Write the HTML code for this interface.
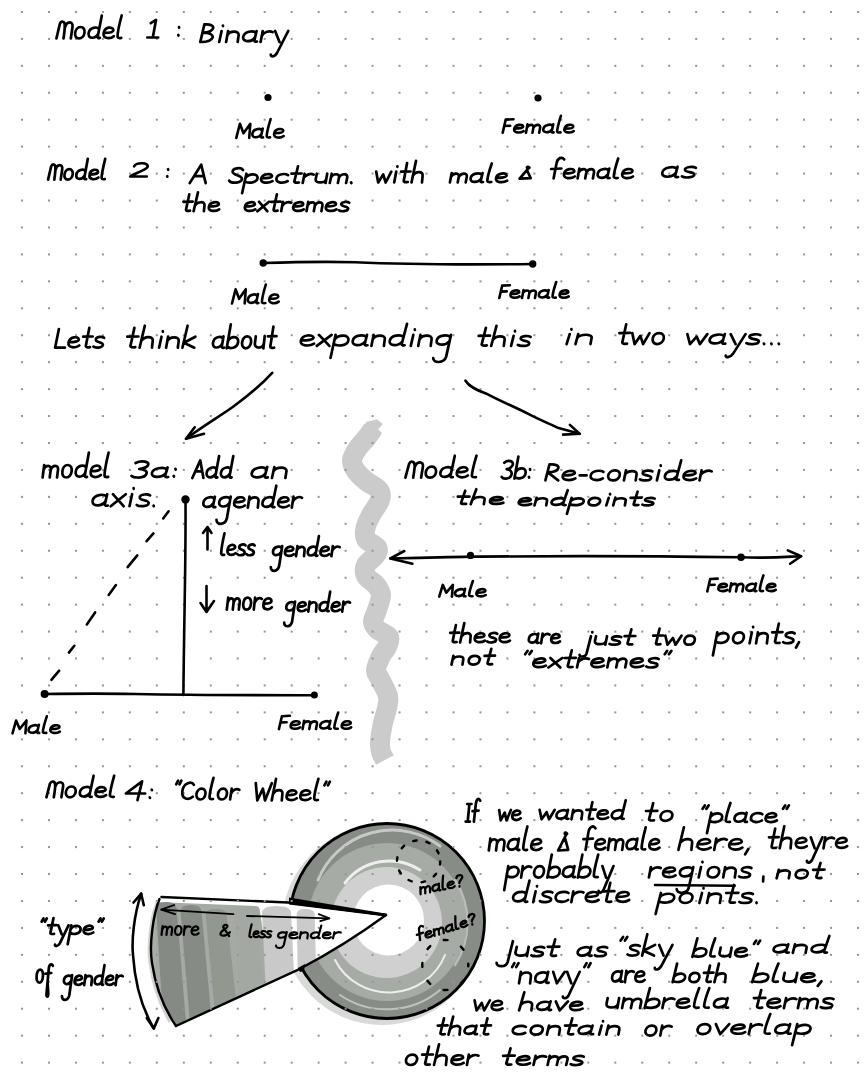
<!DOCTYPE html>
<html><head><meta charset="utf-8"><title>Models of gender</title>
<style>
html,body{margin:0;padding:0;background:#fff;width:865px;height:1080px;overflow:hidden;}
svg{display:block;font-family:"Liberation Sans", sans-serif;}
</style></head><body>
<svg width="865" height="1080" viewBox="0 0 865 1080">
<rect width="865" height="1080" fill="#fff"/>
<path d="M373.0,429.0 C372.2,430.2 370.5,432.8 368.0,436.0 C365.5,439.2 360.7,444.0 358.0,448.0 C355.3,452.0 352.3,456.2 352.0,460.0 C351.7,463.8 353.7,467.5 356.0,471.0 C358.3,474.5 362.2,477.8 366.0,481.0 C369.8,484.2 376.7,486.8 379.0,490.0 C381.3,493.2 381.3,495.8 380.0,500.0 C378.7,504.2 373.4,510.3 371.0,515.0 C368.6,519.7 366.3,524.0 365.5,528.0 C364.7,532.0 364.0,535.7 366.0,539.0 C368.0,542.3 376.0,545.2 377.5,548.0 C379.0,550.8 376.9,553.2 375.0,556.0 C373.1,558.8 367.5,561.7 366.0,565.0 C364.5,568.3 364.3,572.7 366.0,576.0 C367.7,579.3 373.5,581.8 376.0,585.0 C378.5,588.2 380.8,590.8 381.0,595.0 C381.2,599.2 378.3,605.5 377.0,610.0 C375.7,614.5 372.8,618.7 373.0,622.0 C373.2,625.3 375.3,627.5 378.0,630.0 C380.7,632.5 387.5,634.2 389.0,637.0 C390.5,639.8 388.3,643.8 387.0,647.0 C385.7,650.2 382.8,652.2 381.0,656.0 C379.2,659.8 376.2,666.2 376.0,670.0 C375.8,673.8 378.0,674.7 380.0,679.0 C382.0,683.3 386.8,691.2 388.0,696.0 C389.2,700.8 387.8,703.5 387.0,708.0 C386.2,712.5 384.2,717.3 383.0,723.0 C381.8,728.7 380.3,737.2 380.0,742.0 C379.7,746.8 380.2,749.0 381.0,752.0 C381.8,755.0 384.3,758.7 385.0,760.0" fill="none" stroke="#cbcbcb" stroke-width="20" stroke-linejoin="round" stroke-linecap="butt"/>
<polygon points="366,422 377,419.3 382.8,423.9 378.1,429.4 381.9,432.7 373.5,444 358,440 364.3,427.6" fill="#cbcbcb"/>
<!-- color wheel ring -->
<g id="wheel">
  <circle cx="382" cy="925" r="100" fill="#d9d9d9"/>
  <circle cx="387" cy="921" r="97.5" fill="#878c87"/>
  <circle cx="387" cy="922" r="79" fill="#a6aba6"/>
  <circle cx="386.5" cy="922.5" r="55.5" fill="#d0d0d0"/>
  <circle cx="388.5" cy="920" r="35.5" fill="#fff"/>
  <g fill="none" stroke-linecap="round">
    <path d="M318,880 A80,80 0 0 1 440,846" stroke="#c6c9c6" stroke-width="3"/>
    <path d="M455,880 A79,79 0 0 1 455,965" stroke="#b9bdb9" stroke-width="2.5"/>
    <path d="M345,883 A56,56 0 0 1 420,870" stroke="#eeeeee" stroke-width="3"/>
    <path d="M335,960 A60,58 0 0 0 445,955" stroke="#ffffff" stroke-width="2" opacity="0.8"/>
    <path d="M340,995 A80,76 0 0 0 440,990" stroke="#c0c4c0" stroke-width="2"/>
  </g>
  <circle cx="387" cy="921" r="97.5" fill="none" stroke="#000" stroke-width="2.8"/>
</g>
<defs>
  <clipPath id="wclip"><path d="M386,915 L288,902.5 L161.4,897 L159.5,898.5 C153,915 149,945 152,963 C156,990 165,1010 176,1026 L300,968.8 Q345,945 386,915 Z"/></clipPath>
</defs>
<g clip-path="url(#wclip)">
  <rect x="140" y="880" width="260" height="160" fill="#fff"/>
  <path d="M150,906 Q150,902 156,902 L256,906 Q260,906 260,912 L280,1040 L150,1040 Z" fill="#a5aaa5"/>
  <path d="M156,908 Q157,902 166,902 Q176,902 176.5,908 L187,1035 L164,1035 Z" fill="#858a85"/>
  <path d="M180.5,911 Q181,905 191,905 Q201,905 201.5,911 L213,1035 L191,1035 Z" fill="#868b86"/>
  <path d="M205.5,914 Q206,909 216,909 Q226,909 226.5,914 L240,1035 L217,1035 Z" fill="#92978f"/>
  <path d="M234,912 Q235,906 245,906 Q257,906 258,912 L266,1035 L242,1035 Z" fill="#a3a8a3"/>
  <path d="M262,912 Q263,906 276,906 Q290,906 291,912 L297,1035 L268,1035 Z" fill="#c9c9c9"/>
  <path d="M296.6,914 Q297,909 305,909 Q314,909 314.6,914 L318,1035 L299,1035 Z" fill="#cbcbcb"/>
  <path d="M150,1040 L176,1026 L300,968.8 L300,976 L178,1033 Z" fill="#c6c8c6"/>
  <path d="M190,1022 L300,971 L300,973 L195,1022 Z" fill="#ffffff" opacity="0.6"/>
  <path d="M153,905 L152,1000 L155.5,1000 L156.5,905 Z" fill="#a9ada9"/>
</g>
<path d="M157,902 C151,918 147.5,945 150,963 C153,985 160,1005 170,1022" fill="none" stroke="#d2d2d2" stroke-width="3"/>
<g fill="none" stroke="#000" stroke-width="2.4" stroke-linecap="round" stroke-linejoin="round">
  <path d="M161.4,897 L288,902.5 L386,915"/>
  <path d="M159.5,899 C153,915 149,945 152,963 C156,990 165,1010 176,1026"/>
  <path d="M176,1026 L300,968.8 Q345,945 386,915"/>
</g>
<polygon points="289,897.5 386.8,913.8 386,916.5 289,904.5" fill="#000"/>
<polygon points="298,968 305,964 304,971 300,972" fill="#000"/>

<g fill="#959595"><rect x="21.00" y="10.95" width="2" height="2"/><rect x="47.97" y="10.95" width="2" height="2"/><rect x="74.94" y="10.95" width="2" height="2"/><rect x="101.90" y="10.95" width="2" height="2"/><rect x="128.87" y="10.95" width="2" height="2"/><rect x="155.84" y="10.95" width="2" height="2"/><rect x="182.81" y="10.95" width="2" height="2"/><rect x="209.78" y="10.95" width="2" height="2"/><rect x="236.74" y="10.95" width="2" height="2"/><rect x="263.71" y="10.95" width="2" height="2"/><rect x="290.68" y="10.95" width="2" height="2"/><rect x="317.65" y="10.95" width="2" height="2"/><rect x="344.62" y="10.95" width="2" height="2"/><rect x="371.58" y="10.95" width="2" height="2"/><rect x="398.55" y="10.95" width="2" height="2"/><rect x="425.52" y="10.95" width="2" height="2"/><rect x="452.49" y="10.95" width="2" height="2"/><rect x="479.46" y="10.95" width="2" height="2"/><rect x="506.42" y="10.95" width="2" height="2"/><rect x="533.39" y="10.95" width="2" height="2"/><rect x="560.36" y="10.95" width="2" height="2"/><rect x="587.33" y="10.95" width="2" height="2"/><rect x="614.30" y="10.95" width="2" height="2"/><rect x="641.26" y="10.95" width="2" height="2"/><rect x="668.23" y="10.95" width="2" height="2"/><rect x="695.20" y="10.95" width="2" height="2"/><rect x="722.17" y="10.95" width="2" height="2"/><rect x="749.14" y="10.95" width="2" height="2"/><rect x="776.10" y="10.95" width="2" height="2"/><rect x="803.07" y="10.95" width="2" height="2"/><rect x="830.04" y="10.95" width="2" height="2"/><rect x="857.01" y="10.95" width="2" height="2"/><rect x="21.00" y="37.89" width="2" height="2"/><rect x="47.97" y="37.89" width="2" height="2"/><rect x="74.94" y="37.89" width="2" height="2"/><rect x="101.90" y="37.89" width="2" height="2"/><rect x="128.87" y="37.89" width="2" height="2"/><rect x="155.84" y="37.89" width="2" height="2"/><rect x="182.81" y="37.89" width="2" height="2"/><rect x="209.78" y="37.89" width="2" height="2"/><rect x="236.74" y="37.89" width="2" height="2"/><rect x="263.71" y="37.89" width="2" height="2"/><rect x="290.68" y="37.89" width="2" height="2"/><rect x="317.65" y="37.89" width="2" height="2"/><rect x="344.62" y="37.89" width="2" height="2"/><rect x="371.58" y="37.89" width="2" height="2"/><rect x="398.55" y="37.89" width="2" height="2"/><rect x="425.52" y="37.89" width="2" height="2"/><rect x="452.49" y="37.89" width="2" height="2"/><rect x="479.46" y="37.89" width="2" height="2"/><rect x="506.42" y="37.89" width="2" height="2"/><rect x="533.39" y="37.89" width="2" height="2"/><rect x="560.36" y="37.89" width="2" height="2"/><rect x="587.33" y="37.89" width="2" height="2"/><rect x="614.30" y="37.89" width="2" height="2"/><rect x="641.26" y="37.89" width="2" height="2"/><rect x="668.23" y="37.89" width="2" height="2"/><rect x="695.20" y="37.89" width="2" height="2"/><rect x="722.17" y="37.89" width="2" height="2"/><rect x="749.14" y="37.89" width="2" height="2"/><rect x="776.10" y="37.89" width="2" height="2"/><rect x="803.07" y="37.89" width="2" height="2"/><rect x="830.04" y="37.89" width="2" height="2"/><rect x="857.01" y="37.89" width="2" height="2"/><rect x="21.00" y="64.83" width="2" height="2"/><rect x="47.97" y="64.83" width="2" height="2"/><rect x="74.94" y="64.83" width="2" height="2"/><rect x="101.90" y="64.83" width="2" height="2"/><rect x="128.87" y="64.83" width="2" height="2"/><rect x="155.84" y="64.83" width="2" height="2"/><rect x="182.81" y="64.83" width="2" height="2"/><rect x="209.78" y="64.83" width="2" height="2"/><rect x="236.74" y="64.83" width="2" height="2"/><rect x="263.71" y="64.83" width="2" height="2"/><rect x="290.68" y="64.83" width="2" height="2"/><rect x="317.65" y="64.83" width="2" height="2"/><rect x="344.62" y="64.83" width="2" height="2"/><rect x="371.58" y="64.83" width="2" height="2"/><rect x="398.55" y="64.83" width="2" height="2"/><rect x="425.52" y="64.83" width="2" height="2"/><rect x="452.49" y="64.83" width="2" height="2"/><rect x="479.46" y="64.83" width="2" height="2"/><rect x="506.42" y="64.83" width="2" height="2"/><rect x="533.39" y="64.83" width="2" height="2"/><rect x="560.36" y="64.83" width="2" height="2"/><rect x="587.33" y="64.83" width="2" height="2"/><rect x="614.30" y="64.83" width="2" height="2"/><rect x="641.26" y="64.83" width="2" height="2"/><rect x="668.23" y="64.83" width="2" height="2"/><rect x="695.20" y="64.83" width="2" height="2"/><rect x="722.17" y="64.83" width="2" height="2"/><rect x="749.14" y="64.83" width="2" height="2"/><rect x="776.10" y="64.83" width="2" height="2"/><rect x="803.07" y="64.83" width="2" height="2"/><rect x="830.04" y="64.83" width="2" height="2"/><rect x="857.01" y="64.83" width="2" height="2"/><rect x="21.00" y="91.77" width="2" height="2"/><rect x="47.97" y="91.77" width="2" height="2"/><rect x="74.94" y="91.77" width="2" height="2"/><rect x="101.90" y="91.77" width="2" height="2"/><rect x="128.87" y="91.77" width="2" height="2"/><rect x="155.84" y="91.77" width="2" height="2"/><rect x="182.81" y="91.77" width="2" height="2"/><rect x="209.78" y="91.77" width="2" height="2"/><rect x="236.74" y="91.77" width="2" height="2"/><rect x="263.71" y="91.77" width="2" height="2"/><rect x="290.68" y="91.77" width="2" height="2"/><rect x="317.65" y="91.77" width="2" height="2"/><rect x="344.62" y="91.77" width="2" height="2"/><rect x="371.58" y="91.77" width="2" height="2"/><rect x="398.55" y="91.77" width="2" height="2"/><rect x="425.52" y="91.77" width="2" height="2"/><rect x="452.49" y="91.77" width="2" height="2"/><rect x="479.46" y="91.77" width="2" height="2"/><rect x="506.42" y="91.77" width="2" height="2"/><rect x="533.39" y="91.77" width="2" height="2"/><rect x="560.36" y="91.77" width="2" height="2"/><rect x="587.33" y="91.77" width="2" height="2"/><rect x="614.30" y="91.77" width="2" height="2"/><rect x="641.26" y="91.77" width="2" height="2"/><rect x="668.23" y="91.77" width="2" height="2"/><rect x="695.20" y="91.77" width="2" height="2"/><rect x="722.17" y="91.77" width="2" height="2"/><rect x="749.14" y="91.77" width="2" height="2"/><rect x="776.10" y="91.77" width="2" height="2"/><rect x="803.07" y="91.77" width="2" height="2"/><rect x="830.04" y="91.77" width="2" height="2"/><rect x="857.01" y="91.77" width="2" height="2"/><rect x="21.00" y="118.71" width="2" height="2"/><rect x="47.97" y="118.71" width="2" height="2"/><rect x="74.94" y="118.71" width="2" height="2"/><rect x="101.90" y="118.71" width="2" height="2"/><rect x="128.87" y="118.71" width="2" height="2"/><rect x="155.84" y="118.71" width="2" height="2"/><rect x="182.81" y="118.71" width="2" height="2"/><rect x="209.78" y="118.71" width="2" height="2"/><rect x="236.74" y="118.71" width="2" height="2"/><rect x="263.71" y="118.71" width="2" height="2"/><rect x="290.68" y="118.71" width="2" height="2"/><rect x="317.65" y="118.71" width="2" height="2"/><rect x="344.62" y="118.71" width="2" height="2"/><rect x="371.58" y="118.71" width="2" height="2"/><rect x="398.55" y="118.71" width="2" height="2"/><rect x="425.52" y="118.71" width="2" height="2"/><rect x="452.49" y="118.71" width="2" height="2"/><rect x="479.46" y="118.71" width="2" height="2"/><rect x="506.42" y="118.71" width="2" height="2"/><rect x="533.39" y="118.71" width="2" height="2"/><rect x="560.36" y="118.71" width="2" height="2"/><rect x="587.33" y="118.71" width="2" height="2"/><rect x="614.30" y="118.71" width="2" height="2"/><rect x="641.26" y="118.71" width="2" height="2"/><rect x="668.23" y="118.71" width="2" height="2"/><rect x="695.20" y="118.71" width="2" height="2"/><rect x="722.17" y="118.71" width="2" height="2"/><rect x="749.14" y="118.71" width="2" height="2"/><rect x="776.10" y="118.71" width="2" height="2"/><rect x="803.07" y="118.71" width="2" height="2"/><rect x="830.04" y="118.71" width="2" height="2"/><rect x="857.01" y="118.71" width="2" height="2"/><rect x="21.00" y="145.65" width="2" height="2"/><rect x="47.97" y="145.65" width="2" height="2"/><rect x="74.94" y="145.65" width="2" height="2"/><rect x="101.90" y="145.65" width="2" height="2"/><rect x="128.87" y="145.65" width="2" height="2"/><rect x="155.84" y="145.65" width="2" height="2"/><rect x="182.81" y="145.65" width="2" height="2"/><rect x="209.78" y="145.65" width="2" height="2"/><rect x="236.74" y="145.65" width="2" height="2"/><rect x="263.71" y="145.65" width="2" height="2"/><rect x="290.68" y="145.65" width="2" height="2"/><rect x="317.65" y="145.65" width="2" height="2"/><rect x="344.62" y="145.65" width="2" height="2"/><rect x="371.58" y="145.65" width="2" height="2"/><rect x="398.55" y="145.65" width="2" height="2"/><rect x="425.52" y="145.65" width="2" height="2"/><rect x="452.49" y="145.65" width="2" height="2"/><rect x="479.46" y="145.65" width="2" height="2"/><rect x="506.42" y="145.65" width="2" height="2"/><rect x="533.39" y="145.65" width="2" height="2"/><rect x="560.36" y="145.65" width="2" height="2"/><rect x="587.33" y="145.65" width="2" height="2"/><rect x="614.30" y="145.65" width="2" height="2"/><rect x="641.26" y="145.65" width="2" height="2"/><rect x="668.23" y="145.65" width="2" height="2"/><rect x="695.20" y="145.65" width="2" height="2"/><rect x="722.17" y="145.65" width="2" height="2"/><rect x="749.14" y="145.65" width="2" height="2"/><rect x="776.10" y="145.65" width="2" height="2"/><rect x="803.07" y="145.65" width="2" height="2"/><rect x="830.04" y="145.65" width="2" height="2"/><rect x="857.01" y="145.65" width="2" height="2"/><rect x="21.00" y="172.59" width="2" height="2"/><rect x="47.97" y="172.59" width="2" height="2"/><rect x="74.94" y="172.59" width="2" height="2"/><rect x="101.90" y="172.59" width="2" height="2"/><rect x="128.87" y="172.59" width="2" height="2"/><rect x="155.84" y="172.59" width="2" height="2"/><rect x="182.81" y="172.59" width="2" height="2"/><rect x="209.78" y="172.59" width="2" height="2"/><rect x="236.74" y="172.59" width="2" height="2"/><rect x="263.71" y="172.59" width="2" height="2"/><rect x="290.68" y="172.59" width="2" height="2"/><rect x="317.65" y="172.59" width="2" height="2"/><rect x="344.62" y="172.59" width="2" height="2"/><rect x="371.58" y="172.59" width="2" height="2"/><rect x="398.55" y="172.59" width="2" height="2"/><rect x="425.52" y="172.59" width="2" height="2"/><rect x="452.49" y="172.59" width="2" height="2"/><rect x="479.46" y="172.59" width="2" height="2"/><rect x="506.42" y="172.59" width="2" height="2"/><rect x="533.39" y="172.59" width="2" height="2"/><rect x="560.36" y="172.59" width="2" height="2"/><rect x="587.33" y="172.59" width="2" height="2"/><rect x="614.30" y="172.59" width="2" height="2"/><rect x="641.26" y="172.59" width="2" height="2"/><rect x="668.23" y="172.59" width="2" height="2"/><rect x="695.20" y="172.59" width="2" height="2"/><rect x="722.17" y="172.59" width="2" height="2"/><rect x="749.14" y="172.59" width="2" height="2"/><rect x="776.10" y="172.59" width="2" height="2"/><rect x="803.07" y="172.59" width="2" height="2"/><rect x="830.04" y="172.59" width="2" height="2"/><rect x="857.01" y="172.59" width="2" height="2"/><rect x="21.00" y="199.53" width="2" height="2"/><rect x="47.97" y="199.53" width="2" height="2"/><rect x="74.94" y="199.53" width="2" height="2"/><rect x="101.90" y="199.53" width="2" height="2"/><rect x="128.87" y="199.53" width="2" height="2"/><rect x="155.84" y="199.53" width="2" height="2"/><rect x="182.81" y="199.53" width="2" height="2"/><rect x="209.78" y="199.53" width="2" height="2"/><rect x="236.74" y="199.53" width="2" height="2"/><rect x="263.71" y="199.53" width="2" height="2"/><rect x="290.68" y="199.53" width="2" height="2"/><rect x="317.65" y="199.53" width="2" height="2"/><rect x="344.62" y="199.53" width="2" height="2"/><rect x="371.58" y="199.53" width="2" height="2"/><rect x="398.55" y="199.53" width="2" height="2"/><rect x="425.52" y="199.53" width="2" height="2"/><rect x="452.49" y="199.53" width="2" height="2"/><rect x="479.46" y="199.53" width="2" height="2"/><rect x="506.42" y="199.53" width="2" height="2"/><rect x="533.39" y="199.53" width="2" height="2"/><rect x="560.36" y="199.53" width="2" height="2"/><rect x="587.33" y="199.53" width="2" height="2"/><rect x="614.30" y="199.53" width="2" height="2"/><rect x="641.26" y="199.53" width="2" height="2"/><rect x="668.23" y="199.53" width="2" height="2"/><rect x="695.20" y="199.53" width="2" height="2"/><rect x="722.17" y="199.53" width="2" height="2"/><rect x="749.14" y="199.53" width="2" height="2"/><rect x="776.10" y="199.53" width="2" height="2"/><rect x="803.07" y="199.53" width="2" height="2"/><rect x="830.04" y="199.53" width="2" height="2"/><rect x="857.01" y="199.53" width="2" height="2"/><rect x="21.00" y="226.47" width="2" height="2"/><rect x="47.97" y="226.47" width="2" height="2"/><rect x="74.94" y="226.47" width="2" height="2"/><rect x="101.90" y="226.47" width="2" height="2"/><rect x="128.87" y="226.47" width="2" height="2"/><rect x="155.84" y="226.47" width="2" height="2"/><rect x="182.81" y="226.47" width="2" height="2"/><rect x="209.78" y="226.47" width="2" height="2"/><rect x="236.74" y="226.47" width="2" height="2"/><rect x="263.71" y="226.47" width="2" height="2"/><rect x="290.68" y="226.47" width="2" height="2"/><rect x="317.65" y="226.47" width="2" height="2"/><rect x="344.62" y="226.47" width="2" height="2"/><rect x="371.58" y="226.47" width="2" height="2"/><rect x="398.55" y="226.47" width="2" height="2"/><rect x="425.52" y="226.47" width="2" height="2"/><rect x="452.49" y="226.47" width="2" height="2"/><rect x="479.46" y="226.47" width="2" height="2"/><rect x="506.42" y="226.47" width="2" height="2"/><rect x="533.39" y="226.47" width="2" height="2"/><rect x="560.36" y="226.47" width="2" height="2"/><rect x="587.33" y="226.47" width="2" height="2"/><rect x="614.30" y="226.47" width="2" height="2"/><rect x="641.26" y="226.47" width="2" height="2"/><rect x="668.23" y="226.47" width="2" height="2"/><rect x="695.20" y="226.47" width="2" height="2"/><rect x="722.17" y="226.47" width="2" height="2"/><rect x="749.14" y="226.47" width="2" height="2"/><rect x="776.10" y="226.47" width="2" height="2"/><rect x="803.07" y="226.47" width="2" height="2"/><rect x="830.04" y="226.47" width="2" height="2"/><rect x="857.01" y="226.47" width="2" height="2"/><rect x="21.00" y="253.41" width="2" height="2"/><rect x="47.97" y="253.41" width="2" height="2"/><rect x="74.94" y="253.41" width="2" height="2"/><rect x="101.90" y="253.41" width="2" height="2"/><rect x="128.87" y="253.41" width="2" height="2"/><rect x="155.84" y="253.41" width="2" height="2"/><rect x="182.81" y="253.41" width="2" height="2"/><rect x="209.78" y="253.41" width="2" height="2"/><rect x="236.74" y="253.41" width="2" height="2"/><rect x="263.71" y="253.41" width="2" height="2"/><rect x="290.68" y="253.41" width="2" height="2"/><rect x="317.65" y="253.41" width="2" height="2"/><rect x="344.62" y="253.41" width="2" height="2"/><rect x="371.58" y="253.41" width="2" height="2"/><rect x="398.55" y="253.41" width="2" height="2"/><rect x="425.52" y="253.41" width="2" height="2"/><rect x="452.49" y="253.41" width="2" height="2"/><rect x="479.46" y="253.41" width="2" height="2"/><rect x="506.42" y="253.41" width="2" height="2"/><rect x="533.39" y="253.41" width="2" height="2"/><rect x="560.36" y="253.41" width="2" height="2"/><rect x="587.33" y="253.41" width="2" height="2"/><rect x="614.30" y="253.41" width="2" height="2"/><rect x="641.26" y="253.41" width="2" height="2"/><rect x="668.23" y="253.41" width="2" height="2"/><rect x="695.20" y="253.41" width="2" height="2"/><rect x="722.17" y="253.41" width="2" height="2"/><rect x="749.14" y="253.41" width="2" height="2"/><rect x="776.10" y="253.41" width="2" height="2"/><rect x="803.07" y="253.41" width="2" height="2"/><rect x="830.04" y="253.41" width="2" height="2"/><rect x="857.01" y="253.41" width="2" height="2"/><rect x="21.00" y="280.35" width="2" height="2"/><rect x="47.97" y="280.35" width="2" height="2"/><rect x="74.94" y="280.35" width="2" height="2"/><rect x="101.90" y="280.35" width="2" height="2"/><rect x="128.87" y="280.35" width="2" height="2"/><rect x="155.84" y="280.35" width="2" height="2"/><rect x="182.81" y="280.35" width="2" height="2"/><rect x="209.78" y="280.35" width="2" height="2"/><rect x="236.74" y="280.35" width="2" height="2"/><rect x="263.71" y="280.35" width="2" height="2"/><rect x="290.68" y="280.35" width="2" height="2"/><rect x="317.65" y="280.35" width="2" height="2"/><rect x="344.62" y="280.35" width="2" height="2"/><rect x="371.58" y="280.35" width="2" height="2"/><rect x="398.55" y="280.35" width="2" height="2"/><rect x="425.52" y="280.35" width="2" height="2"/><rect x="452.49" y="280.35" width="2" height="2"/><rect x="479.46" y="280.35" width="2" height="2"/><rect x="506.42" y="280.35" width="2" height="2"/><rect x="533.39" y="280.35" width="2" height="2"/><rect x="560.36" y="280.35" width="2" height="2"/><rect x="587.33" y="280.35" width="2" height="2"/><rect x="614.30" y="280.35" width="2" height="2"/><rect x="641.26" y="280.35" width="2" height="2"/><rect x="668.23" y="280.35" width="2" height="2"/><rect x="695.20" y="280.35" width="2" height="2"/><rect x="722.17" y="280.35" width="2" height="2"/><rect x="749.14" y="280.35" width="2" height="2"/><rect x="776.10" y="280.35" width="2" height="2"/><rect x="803.07" y="280.35" width="2" height="2"/><rect x="830.04" y="280.35" width="2" height="2"/><rect x="857.01" y="280.35" width="2" height="2"/><rect x="21.00" y="307.29" width="2" height="2"/><rect x="47.97" y="307.29" width="2" height="2"/><rect x="74.94" y="307.29" width="2" height="2"/><rect x="101.90" y="307.29" width="2" height="2"/><rect x="128.87" y="307.29" width="2" height="2"/><rect x="155.84" y="307.29" width="2" height="2"/><rect x="182.81" y="307.29" width="2" height="2"/><rect x="209.78" y="307.29" width="2" height="2"/><rect x="236.74" y="307.29" width="2" height="2"/><rect x="263.71" y="307.29" width="2" height="2"/><rect x="290.68" y="307.29" width="2" height="2"/><rect x="317.65" y="307.29" width="2" height="2"/><rect x="344.62" y="307.29" width="2" height="2"/><rect x="371.58" y="307.29" width="2" height="2"/><rect x="398.55" y="307.29" width="2" height="2"/><rect x="425.52" y="307.29" width="2" height="2"/><rect x="452.49" y="307.29" width="2" height="2"/><rect x="479.46" y="307.29" width="2" height="2"/><rect x="506.42" y="307.29" width="2" height="2"/><rect x="533.39" y="307.29" width="2" height="2"/><rect x="560.36" y="307.29" width="2" height="2"/><rect x="587.33" y="307.29" width="2" height="2"/><rect x="614.30" y="307.29" width="2" height="2"/><rect x="641.26" y="307.29" width="2" height="2"/><rect x="668.23" y="307.29" width="2" height="2"/><rect x="695.20" y="307.29" width="2" height="2"/><rect x="722.17" y="307.29" width="2" height="2"/><rect x="749.14" y="307.29" width="2" height="2"/><rect x="776.10" y="307.29" width="2" height="2"/><rect x="803.07" y="307.29" width="2" height="2"/><rect x="830.04" y="307.29" width="2" height="2"/><rect x="857.01" y="307.29" width="2" height="2"/><rect x="21.00" y="334.23" width="2" height="2"/><rect x="47.97" y="334.23" width="2" height="2"/><rect x="74.94" y="334.23" width="2" height="2"/><rect x="101.90" y="334.23" width="2" height="2"/><rect x="128.87" y="334.23" width="2" height="2"/><rect x="155.84" y="334.23" width="2" height="2"/><rect x="182.81" y="334.23" width="2" height="2"/><rect x="209.78" y="334.23" width="2" height="2"/><rect x="236.74" y="334.23" width="2" height="2"/><rect x="263.71" y="334.23" width="2" height="2"/><rect x="290.68" y="334.23" width="2" height="2"/><rect x="317.65" y="334.23" width="2" height="2"/><rect x="344.62" y="334.23" width="2" height="2"/><rect x="371.58" y="334.23" width="2" height="2"/><rect x="398.55" y="334.23" width="2" height="2"/><rect x="425.52" y="334.23" width="2" height="2"/><rect x="452.49" y="334.23" width="2" height="2"/><rect x="479.46" y="334.23" width="2" height="2"/><rect x="506.42" y="334.23" width="2" height="2"/><rect x="533.39" y="334.23" width="2" height="2"/><rect x="560.36" y="334.23" width="2" height="2"/><rect x="587.33" y="334.23" width="2" height="2"/><rect x="614.30" y="334.23" width="2" height="2"/><rect x="641.26" y="334.23" width="2" height="2"/><rect x="668.23" y="334.23" width="2" height="2"/><rect x="695.20" y="334.23" width="2" height="2"/><rect x="722.17" y="334.23" width="2" height="2"/><rect x="749.14" y="334.23" width="2" height="2"/><rect x="776.10" y="334.23" width="2" height="2"/><rect x="803.07" y="334.23" width="2" height="2"/><rect x="830.04" y="334.23" width="2" height="2"/><rect x="857.01" y="334.23" width="2" height="2"/><rect x="21.00" y="361.17" width="2" height="2"/><rect x="47.97" y="361.17" width="2" height="2"/><rect x="74.94" y="361.17" width="2" height="2"/><rect x="101.90" y="361.17" width="2" height="2"/><rect x="128.87" y="361.17" width="2" height="2"/><rect x="155.84" y="361.17" width="2" height="2"/><rect x="182.81" y="361.17" width="2" height="2"/><rect x="209.78" y="361.17" width="2" height="2"/><rect x="236.74" y="361.17" width="2" height="2"/><rect x="263.71" y="361.17" width="2" height="2"/><rect x="290.68" y="361.17" width="2" height="2"/><rect x="317.65" y="361.17" width="2" height="2"/><rect x="344.62" y="361.17" width="2" height="2"/><rect x="371.58" y="361.17" width="2" height="2"/><rect x="398.55" y="361.17" width="2" height="2"/><rect x="425.52" y="361.17" width="2" height="2"/><rect x="452.49" y="361.17" width="2" height="2"/><rect x="479.46" y="361.17" width="2" height="2"/><rect x="506.42" y="361.17" width="2" height="2"/><rect x="533.39" y="361.17" width="2" height="2"/><rect x="560.36" y="361.17" width="2" height="2"/><rect x="587.33" y="361.17" width="2" height="2"/><rect x="614.30" y="361.17" width="2" height="2"/><rect x="641.26" y="361.17" width="2" height="2"/><rect x="668.23" y="361.17" width="2" height="2"/><rect x="695.20" y="361.17" width="2" height="2"/><rect x="722.17" y="361.17" width="2" height="2"/><rect x="749.14" y="361.17" width="2" height="2"/><rect x="776.10" y="361.17" width="2" height="2"/><rect x="803.07" y="361.17" width="2" height="2"/><rect x="830.04" y="361.17" width="2" height="2"/><rect x="857.01" y="361.17" width="2" height="2"/><rect x="21.00" y="388.11" width="2" height="2"/><rect x="47.97" y="388.11" width="2" height="2"/><rect x="74.94" y="388.11" width="2" height="2"/><rect x="101.90" y="388.11" width="2" height="2"/><rect x="128.87" y="388.11" width="2" height="2"/><rect x="155.84" y="388.11" width="2" height="2"/><rect x="182.81" y="388.11" width="2" height="2"/><rect x="209.78" y="388.11" width="2" height="2"/><rect x="236.74" y="388.11" width="2" height="2"/><rect x="263.71" y="388.11" width="2" height="2"/><rect x="290.68" y="388.11" width="2" height="2"/><rect x="317.65" y="388.11" width="2" height="2"/><rect x="344.62" y="388.11" width="2" height="2"/><rect x="371.58" y="388.11" width="2" height="2"/><rect x="398.55" y="388.11" width="2" height="2"/><rect x="425.52" y="388.11" width="2" height="2"/><rect x="452.49" y="388.11" width="2" height="2"/><rect x="479.46" y="388.11" width="2" height="2"/><rect x="506.42" y="388.11" width="2" height="2"/><rect x="533.39" y="388.11" width="2" height="2"/><rect x="560.36" y="388.11" width="2" height="2"/><rect x="587.33" y="388.11" width="2" height="2"/><rect x="614.30" y="388.11" width="2" height="2"/><rect x="641.26" y="388.11" width="2" height="2"/><rect x="668.23" y="388.11" width="2" height="2"/><rect x="695.20" y="388.11" width="2" height="2"/><rect x="722.17" y="388.11" width="2" height="2"/><rect x="749.14" y="388.11" width="2" height="2"/><rect x="776.10" y="388.11" width="2" height="2"/><rect x="803.07" y="388.11" width="2" height="2"/><rect x="830.04" y="388.11" width="2" height="2"/><rect x="857.01" y="388.11" width="2" height="2"/><rect x="21.00" y="415.05" width="2" height="2"/><rect x="47.97" y="415.05" width="2" height="2"/><rect x="74.94" y="415.05" width="2" height="2"/><rect x="101.90" y="415.05" width="2" height="2"/><rect x="128.87" y="415.05" width="2" height="2"/><rect x="155.84" y="415.05" width="2" height="2"/><rect x="182.81" y="415.05" width="2" height="2"/><rect x="209.78" y="415.05" width="2" height="2"/><rect x="236.74" y="415.05" width="2" height="2"/><rect x="263.71" y="415.05" width="2" height="2"/><rect x="290.68" y="415.05" width="2" height="2"/><rect x="317.65" y="415.05" width="2" height="2"/><rect x="344.62" y="415.05" width="2" height="2"/><rect x="371.58" y="415.05" width="2" height="2"/><rect x="398.55" y="415.05" width="2" height="2"/><rect x="425.52" y="415.05" width="2" height="2"/><rect x="452.49" y="415.05" width="2" height="2"/><rect x="479.46" y="415.05" width="2" height="2"/><rect x="506.42" y="415.05" width="2" height="2"/><rect x="533.39" y="415.05" width="2" height="2"/><rect x="560.36" y="415.05" width="2" height="2"/><rect x="587.33" y="415.05" width="2" height="2"/><rect x="614.30" y="415.05" width="2" height="2"/><rect x="641.26" y="415.05" width="2" height="2"/><rect x="668.23" y="415.05" width="2" height="2"/><rect x="695.20" y="415.05" width="2" height="2"/><rect x="722.17" y="415.05" width="2" height="2"/><rect x="749.14" y="415.05" width="2" height="2"/><rect x="776.10" y="415.05" width="2" height="2"/><rect x="803.07" y="415.05" width="2" height="2"/><rect x="830.04" y="415.05" width="2" height="2"/><rect x="857.01" y="415.05" width="2" height="2"/><rect x="21.00" y="441.99" width="2" height="2"/><rect x="47.97" y="441.99" width="2" height="2"/><rect x="74.94" y="441.99" width="2" height="2"/><rect x="101.90" y="441.99" width="2" height="2"/><rect x="128.87" y="441.99" width="2" height="2"/><rect x="155.84" y="441.99" width="2" height="2"/><rect x="182.81" y="441.99" width="2" height="2"/><rect x="209.78" y="441.99" width="2" height="2"/><rect x="236.74" y="441.99" width="2" height="2"/><rect x="263.71" y="441.99" width="2" height="2"/><rect x="290.68" y="441.99" width="2" height="2"/><rect x="317.65" y="441.99" width="2" height="2"/><rect x="344.62" y="441.99" width="2" height="2"/><rect x="371.58" y="441.99" width="2" height="2"/><rect x="398.55" y="441.99" width="2" height="2"/><rect x="425.52" y="441.99" width="2" height="2"/><rect x="452.49" y="441.99" width="2" height="2"/><rect x="479.46" y="441.99" width="2" height="2"/><rect x="506.42" y="441.99" width="2" height="2"/><rect x="533.39" y="441.99" width="2" height="2"/><rect x="560.36" y="441.99" width="2" height="2"/><rect x="587.33" y="441.99" width="2" height="2"/><rect x="614.30" y="441.99" width="2" height="2"/><rect x="641.26" y="441.99" width="2" height="2"/><rect x="668.23" y="441.99" width="2" height="2"/><rect x="695.20" y="441.99" width="2" height="2"/><rect x="722.17" y="441.99" width="2" height="2"/><rect x="749.14" y="441.99" width="2" height="2"/><rect x="776.10" y="441.99" width="2" height="2"/><rect x="803.07" y="441.99" width="2" height="2"/><rect x="830.04" y="441.99" width="2" height="2"/><rect x="857.01" y="441.99" width="2" height="2"/><rect x="21.00" y="468.93" width="2" height="2"/><rect x="47.97" y="468.93" width="2" height="2"/><rect x="74.94" y="468.93" width="2" height="2"/><rect x="101.90" y="468.93" width="2" height="2"/><rect x="128.87" y="468.93" width="2" height="2"/><rect x="155.84" y="468.93" width="2" height="2"/><rect x="182.81" y="468.93" width="2" height="2"/><rect x="209.78" y="468.93" width="2" height="2"/><rect x="236.74" y="468.93" width="2" height="2"/><rect x="263.71" y="468.93" width="2" height="2"/><rect x="290.68" y="468.93" width="2" height="2"/><rect x="317.65" y="468.93" width="2" height="2"/><rect x="344.62" y="468.93" width="2" height="2"/><rect x="371.58" y="468.93" width="2" height="2"/><rect x="398.55" y="468.93" width="2" height="2"/><rect x="425.52" y="468.93" width="2" height="2"/><rect x="452.49" y="468.93" width="2" height="2"/><rect x="479.46" y="468.93" width="2" height="2"/><rect x="506.42" y="468.93" width="2" height="2"/><rect x="533.39" y="468.93" width="2" height="2"/><rect x="560.36" y="468.93" width="2" height="2"/><rect x="587.33" y="468.93" width="2" height="2"/><rect x="614.30" y="468.93" width="2" height="2"/><rect x="641.26" y="468.93" width="2" height="2"/><rect x="668.23" y="468.93" width="2" height="2"/><rect x="695.20" y="468.93" width="2" height="2"/><rect x="722.17" y="468.93" width="2" height="2"/><rect x="749.14" y="468.93" width="2" height="2"/><rect x="776.10" y="468.93" width="2" height="2"/><rect x="803.07" y="468.93" width="2" height="2"/><rect x="830.04" y="468.93" width="2" height="2"/><rect x="857.01" y="468.93" width="2" height="2"/><rect x="21.00" y="495.87" width="2" height="2"/><rect x="47.97" y="495.87" width="2" height="2"/><rect x="74.94" y="495.87" width="2" height="2"/><rect x="101.90" y="495.87" width="2" height="2"/><rect x="128.87" y="495.87" width="2" height="2"/><rect x="155.84" y="495.87" width="2" height="2"/><rect x="182.81" y="495.87" width="2" height="2"/><rect x="209.78" y="495.87" width="2" height="2"/><rect x="236.74" y="495.87" width="2" height="2"/><rect x="263.71" y="495.87" width="2" height="2"/><rect x="290.68" y="495.87" width="2" height="2"/><rect x="317.65" y="495.87" width="2" height="2"/><rect x="344.62" y="495.87" width="2" height="2"/><rect x="371.58" y="495.87" width="2" height="2"/><rect x="398.55" y="495.87" width="2" height="2"/><rect x="425.52" y="495.87" width="2" height="2"/><rect x="452.49" y="495.87" width="2" height="2"/><rect x="479.46" y="495.87" width="2" height="2"/><rect x="506.42" y="495.87" width="2" height="2"/><rect x="533.39" y="495.87" width="2" height="2"/><rect x="560.36" y="495.87" width="2" height="2"/><rect x="587.33" y="495.87" width="2" height="2"/><rect x="614.30" y="495.87" width="2" height="2"/><rect x="641.26" y="495.87" width="2" height="2"/><rect x="668.23" y="495.87" width="2" height="2"/><rect x="695.20" y="495.87" width="2" height="2"/><rect x="722.17" y="495.87" width="2" height="2"/><rect x="749.14" y="495.87" width="2" height="2"/><rect x="776.10" y="495.87" width="2" height="2"/><rect x="803.07" y="495.87" width="2" height="2"/><rect x="830.04" y="495.87" width="2" height="2"/><rect x="857.01" y="495.87" width="2" height="2"/><rect x="21.00" y="522.81" width="2" height="2"/><rect x="47.97" y="522.81" width="2" height="2"/><rect x="74.94" y="522.81" width="2" height="2"/><rect x="101.90" y="522.81" width="2" height="2"/><rect x="128.87" y="522.81" width="2" height="2"/><rect x="155.84" y="522.81" width="2" height="2"/><rect x="182.81" y="522.81" width="2" height="2"/><rect x="209.78" y="522.81" width="2" height="2"/><rect x="236.74" y="522.81" width="2" height="2"/><rect x="263.71" y="522.81" width="2" height="2"/><rect x="290.68" y="522.81" width="2" height="2"/><rect x="317.65" y="522.81" width="2" height="2"/><rect x="344.62" y="522.81" width="2" height="2"/><rect x="371.58" y="522.81" width="2" height="2"/><rect x="398.55" y="522.81" width="2" height="2"/><rect x="425.52" y="522.81" width="2" height="2"/><rect x="452.49" y="522.81" width="2" height="2"/><rect x="479.46" y="522.81" width="2" height="2"/><rect x="506.42" y="522.81" width="2" height="2"/><rect x="533.39" y="522.81" width="2" height="2"/><rect x="560.36" y="522.81" width="2" height="2"/><rect x="587.33" y="522.81" width="2" height="2"/><rect x="614.30" y="522.81" width="2" height="2"/><rect x="641.26" y="522.81" width="2" height="2"/><rect x="668.23" y="522.81" width="2" height="2"/><rect x="695.20" y="522.81" width="2" height="2"/><rect x="722.17" y="522.81" width="2" height="2"/><rect x="749.14" y="522.81" width="2" height="2"/><rect x="776.10" y="522.81" width="2" height="2"/><rect x="803.07" y="522.81" width="2" height="2"/><rect x="830.04" y="522.81" width="2" height="2"/><rect x="857.01" y="522.81" width="2" height="2"/><rect x="21.00" y="549.75" width="2" height="2"/><rect x="47.97" y="549.75" width="2" height="2"/><rect x="74.94" y="549.75" width="2" height="2"/><rect x="101.90" y="549.75" width="2" height="2"/><rect x="128.87" y="549.75" width="2" height="2"/><rect x="155.84" y="549.75" width="2" height="2"/><rect x="182.81" y="549.75" width="2" height="2"/><rect x="209.78" y="549.75" width="2" height="2"/><rect x="236.74" y="549.75" width="2" height="2"/><rect x="263.71" y="549.75" width="2" height="2"/><rect x="290.68" y="549.75" width="2" height="2"/><rect x="317.65" y="549.75" width="2" height="2"/><rect x="344.62" y="549.75" width="2" height="2"/><rect x="371.58" y="549.75" width="2" height="2"/><rect x="398.55" y="549.75" width="2" height="2"/><rect x="425.52" y="549.75" width="2" height="2"/><rect x="452.49" y="549.75" width="2" height="2"/><rect x="479.46" y="549.75" width="2" height="2"/><rect x="506.42" y="549.75" width="2" height="2"/><rect x="533.39" y="549.75" width="2" height="2"/><rect x="560.36" y="549.75" width="2" height="2"/><rect x="587.33" y="549.75" width="2" height="2"/><rect x="614.30" y="549.75" width="2" height="2"/><rect x="641.26" y="549.75" width="2" height="2"/><rect x="668.23" y="549.75" width="2" height="2"/><rect x="695.20" y="549.75" width="2" height="2"/><rect x="722.17" y="549.75" width="2" height="2"/><rect x="749.14" y="549.75" width="2" height="2"/><rect x="776.10" y="549.75" width="2" height="2"/><rect x="803.07" y="549.75" width="2" height="2"/><rect x="830.04" y="549.75" width="2" height="2"/><rect x="857.01" y="549.75" width="2" height="2"/><rect x="21.00" y="576.69" width="2" height="2"/><rect x="47.97" y="576.69" width="2" height="2"/><rect x="74.94" y="576.69" width="2" height="2"/><rect x="101.90" y="576.69" width="2" height="2"/><rect x="128.87" y="576.69" width="2" height="2"/><rect x="155.84" y="576.69" width="2" height="2"/><rect x="182.81" y="576.69" width="2" height="2"/><rect x="209.78" y="576.69" width="2" height="2"/><rect x="236.74" y="576.69" width="2" height="2"/><rect x="263.71" y="576.69" width="2" height="2"/><rect x="290.68" y="576.69" width="2" height="2"/><rect x="317.65" y="576.69" width="2" height="2"/><rect x="344.62" y="576.69" width="2" height="2"/><rect x="371.58" y="576.69" width="2" height="2"/><rect x="398.55" y="576.69" width="2" height="2"/><rect x="425.52" y="576.69" width="2" height="2"/><rect x="452.49" y="576.69" width="2" height="2"/><rect x="479.46" y="576.69" width="2" height="2"/><rect x="506.42" y="576.69" width="2" height="2"/><rect x="533.39" y="576.69" width="2" height="2"/><rect x="560.36" y="576.69" width="2" height="2"/><rect x="587.33" y="576.69" width="2" height="2"/><rect x="614.30" y="576.69" width="2" height="2"/><rect x="641.26" y="576.69" width="2" height="2"/><rect x="668.23" y="576.69" width="2" height="2"/><rect x="695.20" y="576.69" width="2" height="2"/><rect x="722.17" y="576.69" width="2" height="2"/><rect x="749.14" y="576.69" width="2" height="2"/><rect x="776.10" y="576.69" width="2" height="2"/><rect x="803.07" y="576.69" width="2" height="2"/><rect x="830.04" y="576.69" width="2" height="2"/><rect x="857.01" y="576.69" width="2" height="2"/><rect x="21.00" y="603.63" width="2" height="2"/><rect x="47.97" y="603.63" width="2" height="2"/><rect x="74.94" y="603.63" width="2" height="2"/><rect x="101.90" y="603.63" width="2" height="2"/><rect x="128.87" y="603.63" width="2" height="2"/><rect x="155.84" y="603.63" width="2" height="2"/><rect x="182.81" y="603.63" width="2" height="2"/><rect x="209.78" y="603.63" width="2" height="2"/><rect x="236.74" y="603.63" width="2" height="2"/><rect x="263.71" y="603.63" width="2" height="2"/><rect x="290.68" y="603.63" width="2" height="2"/><rect x="317.65" y="603.63" width="2" height="2"/><rect x="344.62" y="603.63" width="2" height="2"/><rect x="371.58" y="603.63" width="2" height="2"/><rect x="398.55" y="603.63" width="2" height="2"/><rect x="425.52" y="603.63" width="2" height="2"/><rect x="452.49" y="603.63" width="2" height="2"/><rect x="479.46" y="603.63" width="2" height="2"/><rect x="506.42" y="603.63" width="2" height="2"/><rect x="533.39" y="603.63" width="2" height="2"/><rect x="560.36" y="603.63" width="2" height="2"/><rect x="587.33" y="603.63" width="2" height="2"/><rect x="614.30" y="603.63" width="2" height="2"/><rect x="641.26" y="603.63" width="2" height="2"/><rect x="668.23" y="603.63" width="2" height="2"/><rect x="695.20" y="603.63" width="2" height="2"/><rect x="722.17" y="603.63" width="2" height="2"/><rect x="749.14" y="603.63" width="2" height="2"/><rect x="776.10" y="603.63" width="2" height="2"/><rect x="803.07" y="603.63" width="2" height="2"/><rect x="830.04" y="603.63" width="2" height="2"/><rect x="857.01" y="603.63" width="2" height="2"/><rect x="21.00" y="630.57" width="2" height="2"/><rect x="47.97" y="630.57" width="2" height="2"/><rect x="74.94" y="630.57" width="2" height="2"/><rect x="101.90" y="630.57" width="2" height="2"/><rect x="128.87" y="630.57" width="2" height="2"/><rect x="155.84" y="630.57" width="2" height="2"/><rect x="182.81" y="630.57" width="2" height="2"/><rect x="209.78" y="630.57" width="2" height="2"/><rect x="236.74" y="630.57" width="2" height="2"/><rect x="263.71" y="630.57" width="2" height="2"/><rect x="290.68" y="630.57" width="2" height="2"/><rect x="317.65" y="630.57" width="2" height="2"/><rect x="344.62" y="630.57" width="2" height="2"/><rect x="371.58" y="630.57" width="2" height="2"/><rect x="398.55" y="630.57" width="2" height="2"/><rect x="425.52" y="630.57" width="2" height="2"/><rect x="452.49" y="630.57" width="2" height="2"/><rect x="479.46" y="630.57" width="2" height="2"/><rect x="506.42" y="630.57" width="2" height="2"/><rect x="533.39" y="630.57" width="2" height="2"/><rect x="560.36" y="630.57" width="2" height="2"/><rect x="587.33" y="630.57" width="2" height="2"/><rect x="614.30" y="630.57" width="2" height="2"/><rect x="641.26" y="630.57" width="2" height="2"/><rect x="668.23" y="630.57" width="2" height="2"/><rect x="695.20" y="630.57" width="2" height="2"/><rect x="722.17" y="630.57" width="2" height="2"/><rect x="749.14" y="630.57" width="2" height="2"/><rect x="776.10" y="630.57" width="2" height="2"/><rect x="803.07" y="630.57" width="2" height="2"/><rect x="830.04" y="630.57" width="2" height="2"/><rect x="857.01" y="630.57" width="2" height="2"/><rect x="21.00" y="657.51" width="2" height="2"/><rect x="47.97" y="657.51" width="2" height="2"/><rect x="74.94" y="657.51" width="2" height="2"/><rect x="101.90" y="657.51" width="2" height="2"/><rect x="128.87" y="657.51" width="2" height="2"/><rect x="155.84" y="657.51" width="2" height="2"/><rect x="182.81" y="657.51" width="2" height="2"/><rect x="209.78" y="657.51" width="2" height="2"/><rect x="236.74" y="657.51" width="2" height="2"/><rect x="263.71" y="657.51" width="2" height="2"/><rect x="290.68" y="657.51" width="2" height="2"/><rect x="317.65" y="657.51" width="2" height="2"/><rect x="344.62" y="657.51" width="2" height="2"/><rect x="371.58" y="657.51" width="2" height="2"/><rect x="398.55" y="657.51" width="2" height="2"/><rect x="425.52" y="657.51" width="2" height="2"/><rect x="452.49" y="657.51" width="2" height="2"/><rect x="479.46" y="657.51" width="2" height="2"/><rect x="506.42" y="657.51" width="2" height="2"/><rect x="533.39" y="657.51" width="2" height="2"/><rect x="560.36" y="657.51" width="2" height="2"/><rect x="587.33" y="657.51" width="2" height="2"/><rect x="614.30" y="657.51" width="2" height="2"/><rect x="641.26" y="657.51" width="2" height="2"/><rect x="668.23" y="657.51" width="2" height="2"/><rect x="695.20" y="657.51" width="2" height="2"/><rect x="722.17" y="657.51" width="2" height="2"/><rect x="749.14" y="657.51" width="2" height="2"/><rect x="776.10" y="657.51" width="2" height="2"/><rect x="803.07" y="657.51" width="2" height="2"/><rect x="830.04" y="657.51" width="2" height="2"/><rect x="857.01" y="657.51" width="2" height="2"/><rect x="21.00" y="684.45" width="2" height="2"/><rect x="47.97" y="684.45" width="2" height="2"/><rect x="74.94" y="684.45" width="2" height="2"/><rect x="101.90" y="684.45" width="2" height="2"/><rect x="128.87" y="684.45" width="2" height="2"/><rect x="155.84" y="684.45" width="2" height="2"/><rect x="182.81" y="684.45" width="2" height="2"/><rect x="209.78" y="684.45" width="2" height="2"/><rect x="236.74" y="684.45" width="2" height="2"/><rect x="263.71" y="684.45" width="2" height="2"/><rect x="290.68" y="684.45" width="2" height="2"/><rect x="317.65" y="684.45" width="2" height="2"/><rect x="344.62" y="684.45" width="2" height="2"/><rect x="371.58" y="684.45" width="2" height="2"/><rect x="398.55" y="684.45" width="2" height="2"/><rect x="425.52" y="684.45" width="2" height="2"/><rect x="452.49" y="684.45" width="2" height="2"/><rect x="479.46" y="684.45" width="2" height="2"/><rect x="506.42" y="684.45" width="2" height="2"/><rect x="533.39" y="684.45" width="2" height="2"/><rect x="560.36" y="684.45" width="2" height="2"/><rect x="587.33" y="684.45" width="2" height="2"/><rect x="614.30" y="684.45" width="2" height="2"/><rect x="641.26" y="684.45" width="2" height="2"/><rect x="668.23" y="684.45" width="2" height="2"/><rect x="695.20" y="684.45" width="2" height="2"/><rect x="722.17" y="684.45" width="2" height="2"/><rect x="749.14" y="684.45" width="2" height="2"/><rect x="776.10" y="684.45" width="2" height="2"/><rect x="803.07" y="684.45" width="2" height="2"/><rect x="830.04" y="684.45" width="2" height="2"/><rect x="857.01" y="684.45" width="2" height="2"/><rect x="21.00" y="711.39" width="2" height="2"/><rect x="47.97" y="711.39" width="2" height="2"/><rect x="74.94" y="711.39" width="2" height="2"/><rect x="101.90" y="711.39" width="2" height="2"/><rect x="128.87" y="711.39" width="2" height="2"/><rect x="155.84" y="711.39" width="2" height="2"/><rect x="182.81" y="711.39" width="2" height="2"/><rect x="209.78" y="711.39" width="2" height="2"/><rect x="236.74" y="711.39" width="2" height="2"/><rect x="263.71" y="711.39" width="2" height="2"/><rect x="290.68" y="711.39" width="2" height="2"/><rect x="317.65" y="711.39" width="2" height="2"/><rect x="344.62" y="711.39" width="2" height="2"/><rect x="371.58" y="711.39" width="2" height="2"/><rect x="398.55" y="711.39" width="2" height="2"/><rect x="425.52" y="711.39" width="2" height="2"/><rect x="452.49" y="711.39" width="2" height="2"/><rect x="479.46" y="711.39" width="2" height="2"/><rect x="506.42" y="711.39" width="2" height="2"/><rect x="533.39" y="711.39" width="2" height="2"/><rect x="560.36" y="711.39" width="2" height="2"/><rect x="587.33" y="711.39" width="2" height="2"/><rect x="614.30" y="711.39" width="2" height="2"/><rect x="641.26" y="711.39" width="2" height="2"/><rect x="668.23" y="711.39" width="2" height="2"/><rect x="695.20" y="711.39" width="2" height="2"/><rect x="722.17" y="711.39" width="2" height="2"/><rect x="749.14" y="711.39" width="2" height="2"/><rect x="776.10" y="711.39" width="2" height="2"/><rect x="803.07" y="711.39" width="2" height="2"/><rect x="830.04" y="711.39" width="2" height="2"/><rect x="857.01" y="711.39" width="2" height="2"/><rect x="21.00" y="738.33" width="2" height="2"/><rect x="47.97" y="738.33" width="2" height="2"/><rect x="74.94" y="738.33" width="2" height="2"/><rect x="101.90" y="738.33" width="2" height="2"/><rect x="128.87" y="738.33" width="2" height="2"/><rect x="155.84" y="738.33" width="2" height="2"/><rect x="182.81" y="738.33" width="2" height="2"/><rect x="209.78" y="738.33" width="2" height="2"/><rect x="236.74" y="738.33" width="2" height="2"/><rect x="263.71" y="738.33" width="2" height="2"/><rect x="290.68" y="738.33" width="2" height="2"/><rect x="317.65" y="738.33" width="2" height="2"/><rect x="344.62" y="738.33" width="2" height="2"/><rect x="371.58" y="738.33" width="2" height="2"/><rect x="398.55" y="738.33" width="2" height="2"/><rect x="425.52" y="738.33" width="2" height="2"/><rect x="452.49" y="738.33" width="2" height="2"/><rect x="479.46" y="738.33" width="2" height="2"/><rect x="506.42" y="738.33" width="2" height="2"/><rect x="533.39" y="738.33" width="2" height="2"/><rect x="560.36" y="738.33" width="2" height="2"/><rect x="587.33" y="738.33" width="2" height="2"/><rect x="614.30" y="738.33" width="2" height="2"/><rect x="641.26" y="738.33" width="2" height="2"/><rect x="668.23" y="738.33" width="2" height="2"/><rect x="695.20" y="738.33" width="2" height="2"/><rect x="722.17" y="738.33" width="2" height="2"/><rect x="749.14" y="738.33" width="2" height="2"/><rect x="776.10" y="738.33" width="2" height="2"/><rect x="803.07" y="738.33" width="2" height="2"/><rect x="830.04" y="738.33" width="2" height="2"/><rect x="857.01" y="738.33" width="2" height="2"/><rect x="21.00" y="765.27" width="2" height="2"/><rect x="47.97" y="765.27" width="2" height="2"/><rect x="74.94" y="765.27" width="2" height="2"/><rect x="101.90" y="765.27" width="2" height="2"/><rect x="128.87" y="765.27" width="2" height="2"/><rect x="155.84" y="765.27" width="2" height="2"/><rect x="182.81" y="765.27" width="2" height="2"/><rect x="209.78" y="765.27" width="2" height="2"/><rect x="236.74" y="765.27" width="2" height="2"/><rect x="263.71" y="765.27" width="2" height="2"/><rect x="290.68" y="765.27" width="2" height="2"/><rect x="317.65" y="765.27" width="2" height="2"/><rect x="344.62" y="765.27" width="2" height="2"/><rect x="371.58" y="765.27" width="2" height="2"/><rect x="398.55" y="765.27" width="2" height="2"/><rect x="425.52" y="765.27" width="2" height="2"/><rect x="452.49" y="765.27" width="2" height="2"/><rect x="479.46" y="765.27" width="2" height="2"/><rect x="506.42" y="765.27" width="2" height="2"/><rect x="533.39" y="765.27" width="2" height="2"/><rect x="560.36" y="765.27" width="2" height="2"/><rect x="587.33" y="765.27" width="2" height="2"/><rect x="614.30" y="765.27" width="2" height="2"/><rect x="641.26" y="765.27" width="2" height="2"/><rect x="668.23" y="765.27" width="2" height="2"/><rect x="695.20" y="765.27" width="2" height="2"/><rect x="722.17" y="765.27" width="2" height="2"/><rect x="749.14" y="765.27" width="2" height="2"/><rect x="776.10" y="765.27" width="2" height="2"/><rect x="803.07" y="765.27" width="2" height="2"/><rect x="830.04" y="765.27" width="2" height="2"/><rect x="857.01" y="765.27" width="2" height="2"/><rect x="21.00" y="792.21" width="2" height="2"/><rect x="47.97" y="792.21" width="2" height="2"/><rect x="74.94" y="792.21" width="2" height="2"/><rect x="101.90" y="792.21" width="2" height="2"/><rect x="128.87" y="792.21" width="2" height="2"/><rect x="155.84" y="792.21" width="2" height="2"/><rect x="182.81" y="792.21" width="2" height="2"/><rect x="209.78" y="792.21" width="2" height="2"/><rect x="236.74" y="792.21" width="2" height="2"/><rect x="263.71" y="792.21" width="2" height="2"/><rect x="290.68" y="792.21" width="2" height="2"/><rect x="317.65" y="792.21" width="2" height="2"/><rect x="344.62" y="792.21" width="2" height="2"/><rect x="371.58" y="792.21" width="2" height="2"/><rect x="398.55" y="792.21" width="2" height="2"/><rect x="425.52" y="792.21" width="2" height="2"/><rect x="452.49" y="792.21" width="2" height="2"/><rect x="479.46" y="792.21" width="2" height="2"/><rect x="506.42" y="792.21" width="2" height="2"/><rect x="533.39" y="792.21" width="2" height="2"/><rect x="560.36" y="792.21" width="2" height="2"/><rect x="587.33" y="792.21" width="2" height="2"/><rect x="614.30" y="792.21" width="2" height="2"/><rect x="641.26" y="792.21" width="2" height="2"/><rect x="668.23" y="792.21" width="2" height="2"/><rect x="695.20" y="792.21" width="2" height="2"/><rect x="722.17" y="792.21" width="2" height="2"/><rect x="749.14" y="792.21" width="2" height="2"/><rect x="776.10" y="792.21" width="2" height="2"/><rect x="803.07" y="792.21" width="2" height="2"/><rect x="830.04" y="792.21" width="2" height="2"/><rect x="857.01" y="792.21" width="2" height="2"/><rect x="21.00" y="819.15" width="2" height="2"/><rect x="47.97" y="819.15" width="2" height="2"/><rect x="74.94" y="819.15" width="2" height="2"/><rect x="101.90" y="819.15" width="2" height="2"/><rect x="128.87" y="819.15" width="2" height="2"/><rect x="155.84" y="819.15" width="2" height="2"/><rect x="182.81" y="819.15" width="2" height="2"/><rect x="209.78" y="819.15" width="2" height="2"/><rect x="236.74" y="819.15" width="2" height="2"/><rect x="263.71" y="819.15" width="2" height="2"/><rect x="290.68" y="819.15" width="2" height="2"/><rect x="317.65" y="819.15" width="2" height="2"/><rect x="344.62" y="819.15" width="2" height="2"/><rect x="371.58" y="819.15" width="2" height="2"/><rect x="398.55" y="819.15" width="2" height="2"/><rect x="425.52" y="819.15" width="2" height="2"/><rect x="452.49" y="819.15" width="2" height="2"/><rect x="479.46" y="819.15" width="2" height="2"/><rect x="506.42" y="819.15" width="2" height="2"/><rect x="533.39" y="819.15" width="2" height="2"/><rect x="560.36" y="819.15" width="2" height="2"/><rect x="587.33" y="819.15" width="2" height="2"/><rect x="614.30" y="819.15" width="2" height="2"/><rect x="641.26" y="819.15" width="2" height="2"/><rect x="668.23" y="819.15" width="2" height="2"/><rect x="695.20" y="819.15" width="2" height="2"/><rect x="722.17" y="819.15" width="2" height="2"/><rect x="749.14" y="819.15" width="2" height="2"/><rect x="776.10" y="819.15" width="2" height="2"/><rect x="803.07" y="819.15" width="2" height="2"/><rect x="830.04" y="819.15" width="2" height="2"/><rect x="857.01" y="819.15" width="2" height="2"/><rect x="21.00" y="846.09" width="2" height="2"/><rect x="47.97" y="846.09" width="2" height="2"/><rect x="74.94" y="846.09" width="2" height="2"/><rect x="101.90" y="846.09" width="2" height="2"/><rect x="128.87" y="846.09" width="2" height="2"/><rect x="155.84" y="846.09" width="2" height="2"/><rect x="182.81" y="846.09" width="2" height="2"/><rect x="209.78" y="846.09" width="2" height="2"/><rect x="236.74" y="846.09" width="2" height="2"/><rect x="263.71" y="846.09" width="2" height="2"/><rect x="290.68" y="846.09" width="2" height="2"/><rect x="317.65" y="846.09" width="2" height="2"/><rect x="344.62" y="846.09" width="2" height="2"/><rect x="371.58" y="846.09" width="2" height="2"/><rect x="398.55" y="846.09" width="2" height="2"/><rect x="425.52" y="846.09" width="2" height="2"/><rect x="452.49" y="846.09" width="2" height="2"/><rect x="479.46" y="846.09" width="2" height="2"/><rect x="506.42" y="846.09" width="2" height="2"/><rect x="533.39" y="846.09" width="2" height="2"/><rect x="560.36" y="846.09" width="2" height="2"/><rect x="587.33" y="846.09" width="2" height="2"/><rect x="614.30" y="846.09" width="2" height="2"/><rect x="641.26" y="846.09" width="2" height="2"/><rect x="668.23" y="846.09" width="2" height="2"/><rect x="695.20" y="846.09" width="2" height="2"/><rect x="722.17" y="846.09" width="2" height="2"/><rect x="749.14" y="846.09" width="2" height="2"/><rect x="776.10" y="846.09" width="2" height="2"/><rect x="803.07" y="846.09" width="2" height="2"/><rect x="830.04" y="846.09" width="2" height="2"/><rect x="857.01" y="846.09" width="2" height="2"/><rect x="21.00" y="873.03" width="2" height="2"/><rect x="47.97" y="873.03" width="2" height="2"/><rect x="74.94" y="873.03" width="2" height="2"/><rect x="101.90" y="873.03" width="2" height="2"/><rect x="128.87" y="873.03" width="2" height="2"/><rect x="155.84" y="873.03" width="2" height="2"/><rect x="182.81" y="873.03" width="2" height="2"/><rect x="209.78" y="873.03" width="2" height="2"/><rect x="236.74" y="873.03" width="2" height="2"/><rect x="263.71" y="873.03" width="2" height="2"/><rect x="290.68" y="873.03" width="2" height="2"/><rect x="317.65" y="873.03" width="2" height="2"/><rect x="344.62" y="873.03" width="2" height="2"/><rect x="371.58" y="873.03" width="2" height="2"/><rect x="398.55" y="873.03" width="2" height="2"/><rect x="425.52" y="873.03" width="2" height="2"/><rect x="452.49" y="873.03" width="2" height="2"/><rect x="479.46" y="873.03" width="2" height="2"/><rect x="506.42" y="873.03" width="2" height="2"/><rect x="533.39" y="873.03" width="2" height="2"/><rect x="560.36" y="873.03" width="2" height="2"/><rect x="587.33" y="873.03" width="2" height="2"/><rect x="614.30" y="873.03" width="2" height="2"/><rect x="641.26" y="873.03" width="2" height="2"/><rect x="668.23" y="873.03" width="2" height="2"/><rect x="695.20" y="873.03" width="2" height="2"/><rect x="722.17" y="873.03" width="2" height="2"/><rect x="749.14" y="873.03" width="2" height="2"/><rect x="776.10" y="873.03" width="2" height="2"/><rect x="803.07" y="873.03" width="2" height="2"/><rect x="830.04" y="873.03" width="2" height="2"/><rect x="857.01" y="873.03" width="2" height="2"/><rect x="21.00" y="899.97" width="2" height="2"/><rect x="47.97" y="899.97" width="2" height="2"/><rect x="74.94" y="899.97" width="2" height="2"/><rect x="101.90" y="899.97" width="2" height="2"/><rect x="128.87" y="899.97" width="2" height="2"/><rect x="155.84" y="899.97" width="2" height="2"/><rect x="182.81" y="899.97" width="2" height="2"/><rect x="209.78" y="899.97" width="2" height="2"/><rect x="236.74" y="899.97" width="2" height="2"/><rect x="263.71" y="899.97" width="2" height="2"/><rect x="290.68" y="899.97" width="2" height="2"/><rect x="317.65" y="899.97" width="2" height="2"/><rect x="344.62" y="899.97" width="2" height="2"/><rect x="371.58" y="899.97" width="2" height="2"/><rect x="398.55" y="899.97" width="2" height="2"/><rect x="425.52" y="899.97" width="2" height="2"/><rect x="452.49" y="899.97" width="2" height="2"/><rect x="479.46" y="899.97" width="2" height="2"/><rect x="506.42" y="899.97" width="2" height="2"/><rect x="533.39" y="899.97" width="2" height="2"/><rect x="560.36" y="899.97" width="2" height="2"/><rect x="587.33" y="899.97" width="2" height="2"/><rect x="614.30" y="899.97" width="2" height="2"/><rect x="641.26" y="899.97" width="2" height="2"/><rect x="668.23" y="899.97" width="2" height="2"/><rect x="695.20" y="899.97" width="2" height="2"/><rect x="722.17" y="899.97" width="2" height="2"/><rect x="749.14" y="899.97" width="2" height="2"/><rect x="776.10" y="899.97" width="2" height="2"/><rect x="803.07" y="899.97" width="2" height="2"/><rect x="830.04" y="899.97" width="2" height="2"/><rect x="857.01" y="899.97" width="2" height="2"/><rect x="21.00" y="926.91" width="2" height="2"/><rect x="47.97" y="926.91" width="2" height="2"/><rect x="74.94" y="926.91" width="2" height="2"/><rect x="101.90" y="926.91" width="2" height="2"/><rect x="128.87" y="926.91" width="2" height="2"/><rect x="155.84" y="926.91" width="2" height="2"/><rect x="182.81" y="926.91" width="2" height="2"/><rect x="209.78" y="926.91" width="2" height="2"/><rect x="236.74" y="926.91" width="2" height="2"/><rect x="263.71" y="926.91" width="2" height="2"/><rect x="290.68" y="926.91" width="2" height="2"/><rect x="317.65" y="926.91" width="2" height="2"/><rect x="344.62" y="926.91" width="2" height="2"/><rect x="371.58" y="926.91" width="2" height="2"/><rect x="398.55" y="926.91" width="2" height="2"/><rect x="425.52" y="926.91" width="2" height="2"/><rect x="452.49" y="926.91" width="2" height="2"/><rect x="479.46" y="926.91" width="2" height="2"/><rect x="506.42" y="926.91" width="2" height="2"/><rect x="533.39" y="926.91" width="2" height="2"/><rect x="560.36" y="926.91" width="2" height="2"/><rect x="587.33" y="926.91" width="2" height="2"/><rect x="614.30" y="926.91" width="2" height="2"/><rect x="641.26" y="926.91" width="2" height="2"/><rect x="668.23" y="926.91" width="2" height="2"/><rect x="695.20" y="926.91" width="2" height="2"/><rect x="722.17" y="926.91" width="2" height="2"/><rect x="749.14" y="926.91" width="2" height="2"/><rect x="776.10" y="926.91" width="2" height="2"/><rect x="803.07" y="926.91" width="2" height="2"/><rect x="830.04" y="926.91" width="2" height="2"/><rect x="857.01" y="926.91" width="2" height="2"/><rect x="21.00" y="953.85" width="2" height="2"/><rect x="47.97" y="953.85" width="2" height="2"/><rect x="74.94" y="953.85" width="2" height="2"/><rect x="101.90" y="953.85" width="2" height="2"/><rect x="128.87" y="953.85" width="2" height="2"/><rect x="155.84" y="953.85" width="2" height="2"/><rect x="182.81" y="953.85" width="2" height="2"/><rect x="209.78" y="953.85" width="2" height="2"/><rect x="236.74" y="953.85" width="2" height="2"/><rect x="263.71" y="953.85" width="2" height="2"/><rect x="290.68" y="953.85" width="2" height="2"/><rect x="317.65" y="953.85" width="2" height="2"/><rect x="344.62" y="953.85" width="2" height="2"/><rect x="371.58" y="953.85" width="2" height="2"/><rect x="398.55" y="953.85" width="2" height="2"/><rect x="425.52" y="953.85" width="2" height="2"/><rect x="452.49" y="953.85" width="2" height="2"/><rect x="479.46" y="953.85" width="2" height="2"/><rect x="506.42" y="953.85" width="2" height="2"/><rect x="533.39" y="953.85" width="2" height="2"/><rect x="560.36" y="953.85" width="2" height="2"/><rect x="587.33" y="953.85" width="2" height="2"/><rect x="614.30" y="953.85" width="2" height="2"/><rect x="641.26" y="953.85" width="2" height="2"/><rect x="668.23" y="953.85" width="2" height="2"/><rect x="695.20" y="953.85" width="2" height="2"/><rect x="722.17" y="953.85" width="2" height="2"/><rect x="749.14" y="953.85" width="2" height="2"/><rect x="776.10" y="953.85" width="2" height="2"/><rect x="803.07" y="953.85" width="2" height="2"/><rect x="830.04" y="953.85" width="2" height="2"/><rect x="857.01" y="953.85" width="2" height="2"/><rect x="21.00" y="980.79" width="2" height="2"/><rect x="47.97" y="980.79" width="2" height="2"/><rect x="74.94" y="980.79" width="2" height="2"/><rect x="101.90" y="980.79" width="2" height="2"/><rect x="128.87" y="980.79" width="2" height="2"/><rect x="155.84" y="980.79" width="2" height="2"/><rect x="182.81" y="980.79" width="2" height="2"/><rect x="209.78" y="980.79" width="2" height="2"/><rect x="236.74" y="980.79" width="2" height="2"/><rect x="263.71" y="980.79" width="2" height="2"/><rect x="290.68" y="980.79" width="2" height="2"/><rect x="317.65" y="980.79" width="2" height="2"/><rect x="344.62" y="980.79" width="2" height="2"/><rect x="371.58" y="980.79" width="2" height="2"/><rect x="398.55" y="980.79" width="2" height="2"/><rect x="425.52" y="980.79" width="2" height="2"/><rect x="452.49" y="980.79" width="2" height="2"/><rect x="479.46" y="980.79" width="2" height="2"/><rect x="506.42" y="980.79" width="2" height="2"/><rect x="533.39" y="980.79" width="2" height="2"/><rect x="560.36" y="980.79" width="2" height="2"/><rect x="587.33" y="980.79" width="2" height="2"/><rect x="614.30" y="980.79" width="2" height="2"/><rect x="641.26" y="980.79" width="2" height="2"/><rect x="668.23" y="980.79" width="2" height="2"/><rect x="695.20" y="980.79" width="2" height="2"/><rect x="722.17" y="980.79" width="2" height="2"/><rect x="749.14" y="980.79" width="2" height="2"/><rect x="776.10" y="980.79" width="2" height="2"/><rect x="803.07" y="980.79" width="2" height="2"/><rect x="830.04" y="980.79" width="2" height="2"/><rect x="857.01" y="980.79" width="2" height="2"/><rect x="21.00" y="1007.73" width="2" height="2"/><rect x="47.97" y="1007.73" width="2" height="2"/><rect x="74.94" y="1007.73" width="2" height="2"/><rect x="101.90" y="1007.73" width="2" height="2"/><rect x="128.87" y="1007.73" width="2" height="2"/><rect x="155.84" y="1007.73" width="2" height="2"/><rect x="182.81" y="1007.73" width="2" height="2"/><rect x="209.78" y="1007.73" width="2" height="2"/><rect x="236.74" y="1007.73" width="2" height="2"/><rect x="263.71" y="1007.73" width="2" height="2"/><rect x="290.68" y="1007.73" width="2" height="2"/><rect x="317.65" y="1007.73" width="2" height="2"/><rect x="344.62" y="1007.73" width="2" height="2"/><rect x="371.58" y="1007.73" width="2" height="2"/><rect x="398.55" y="1007.73" width="2" height="2"/><rect x="425.52" y="1007.73" width="2" height="2"/><rect x="452.49" y="1007.73" width="2" height="2"/><rect x="479.46" y="1007.73" width="2" height="2"/><rect x="506.42" y="1007.73" width="2" height="2"/><rect x="533.39" y="1007.73" width="2" height="2"/><rect x="560.36" y="1007.73" width="2" height="2"/><rect x="587.33" y="1007.73" width="2" height="2"/><rect x="614.30" y="1007.73" width="2" height="2"/><rect x="641.26" y="1007.73" width="2" height="2"/><rect x="668.23" y="1007.73" width="2" height="2"/><rect x="695.20" y="1007.73" width="2" height="2"/><rect x="722.17" y="1007.73" width="2" height="2"/><rect x="749.14" y="1007.73" width="2" height="2"/><rect x="776.10" y="1007.73" width="2" height="2"/><rect x="803.07" y="1007.73" width="2" height="2"/><rect x="830.04" y="1007.73" width="2" height="2"/><rect x="857.01" y="1007.73" width="2" height="2"/><rect x="21.00" y="1034.67" width="2" height="2"/><rect x="47.97" y="1034.67" width="2" height="2"/><rect x="74.94" y="1034.67" width="2" height="2"/><rect x="101.90" y="1034.67" width="2" height="2"/><rect x="128.87" y="1034.67" width="2" height="2"/><rect x="155.84" y="1034.67" width="2" height="2"/><rect x="182.81" y="1034.67" width="2" height="2"/><rect x="209.78" y="1034.67" width="2" height="2"/><rect x="236.74" y="1034.67" width="2" height="2"/><rect x="263.71" y="1034.67" width="2" height="2"/><rect x="290.68" y="1034.67" width="2" height="2"/><rect x="317.65" y="1034.67" width="2" height="2"/><rect x="344.62" y="1034.67" width="2" height="2"/><rect x="371.58" y="1034.67" width="2" height="2"/><rect x="398.55" y="1034.67" width="2" height="2"/><rect x="425.52" y="1034.67" width="2" height="2"/><rect x="452.49" y="1034.67" width="2" height="2"/><rect x="479.46" y="1034.67" width="2" height="2"/><rect x="506.42" y="1034.67" width="2" height="2"/><rect x="533.39" y="1034.67" width="2" height="2"/><rect x="560.36" y="1034.67" width="2" height="2"/><rect x="587.33" y="1034.67" width="2" height="2"/><rect x="614.30" y="1034.67" width="2" height="2"/><rect x="641.26" y="1034.67" width="2" height="2"/><rect x="668.23" y="1034.67" width="2" height="2"/><rect x="695.20" y="1034.67" width="2" height="2"/><rect x="722.17" y="1034.67" width="2" height="2"/><rect x="749.14" y="1034.67" width="2" height="2"/><rect x="776.10" y="1034.67" width="2" height="2"/><rect x="803.07" y="1034.67" width="2" height="2"/><rect x="830.04" y="1034.67" width="2" height="2"/><rect x="857.01" y="1034.67" width="2" height="2"/><rect x="21.00" y="1061.61" width="2" height="2"/><rect x="47.97" y="1061.61" width="2" height="2"/><rect x="74.94" y="1061.61" width="2" height="2"/><rect x="101.90" y="1061.61" width="2" height="2"/><rect x="128.87" y="1061.61" width="2" height="2"/><rect x="155.84" y="1061.61" width="2" height="2"/><rect x="182.81" y="1061.61" width="2" height="2"/><rect x="209.78" y="1061.61" width="2" height="2"/><rect x="236.74" y="1061.61" width="2" height="2"/><rect x="263.71" y="1061.61" width="2" height="2"/><rect x="290.68" y="1061.61" width="2" height="2"/><rect x="317.65" y="1061.61" width="2" height="2"/><rect x="344.62" y="1061.61" width="2" height="2"/><rect x="371.58" y="1061.61" width="2" height="2"/><rect x="398.55" y="1061.61" width="2" height="2"/><rect x="425.52" y="1061.61" width="2" height="2"/><rect x="452.49" y="1061.61" width="2" height="2"/><rect x="479.46" y="1061.61" width="2" height="2"/><rect x="506.42" y="1061.61" width="2" height="2"/><rect x="533.39" y="1061.61" width="2" height="2"/><rect x="560.36" y="1061.61" width="2" height="2"/><rect x="587.33" y="1061.61" width="2" height="2"/><rect x="614.30" y="1061.61" width="2" height="2"/><rect x="641.26" y="1061.61" width="2" height="2"/><rect x="668.23" y="1061.61" width="2" height="2"/><rect x="695.20" y="1061.61" width="2" height="2"/><rect x="722.17" y="1061.61" width="2" height="2"/><rect x="749.14" y="1061.61" width="2" height="2"/><rect x="776.10" y="1061.61" width="2" height="2"/><rect x="803.07" y="1061.61" width="2" height="2"/><rect x="830.04" y="1061.61" width="2" height="2"/><rect x="857.01" y="1061.61" width="2" height="2"/></g>
<g fill="#000">
  <circle cx="268" cy="97.5" r="3.6"/>
  <circle cx="538" cy="98" r="3.6"/>
  <circle cx="263.2" cy="263" r="3.7"/>
  <circle cx="532.7" cy="264" r="3.7"/>
  <circle cx="185.5" cy="499.5" r="4.2"/>
  <circle cx="44.6" cy="694" r="4"/>
  <circle cx="314.4" cy="695" r="3.5"/>
  <circle cx="470.5" cy="555.4" r="3.6"/>
  <circle cx="741" cy="557.3" r="3.8"/>
</g>
<g fill="none" stroke="#000" stroke-width="2.6" stroke-linecap="round" stroke-linejoin="round">
  <!-- spectrum line -->
  <path d="M263.2,263 C300,261.8 330,261.6 355,262.2 C400,264.2 480,264.6 532.7,264"/>
  <!-- lets think arrows -->
  <path d="M272.2,372.8 C262,384 245,398 232.4,407.2 C220,416 200,428 186,438.8"/>
  <path d="M194.7,427.3 L186,438.8 L204,433.8"/>
  <path d="M465.5,380.7 C470,388 480,391 487.4,394.1 C500,401 515,407 527.8,413.6 C540,420 550,424 558.6,428.1 L579.6,433.8"/>
  <path d="M569.9,424.9 L579.6,433.8 L563.1,434.6"/>
  <!-- 3a axes -->
  <path d="M185.5,500 C186,560 184,620 183.4,695"/>
  <path d="M44.6,694 C80,693.5 110,693.5 135,694 C160,694.5 200,695.3 314.4,695.2"/>
  <!-- dashes -->
  <path d="M51.4,679.8 L59.2,670.7 M68.9,652.6 L74.3,645.8 M86.8,624.4 L95.1,612.4 M108.7,594.9 L115.9,585.1 M127.6,567.1 L137.3,555.4 M146.6,541.2 L153.4,533.4 M163.2,518.5 L168.6,511.3"/>
  <!-- less/more arrows -->
  <path d="M207.5,549.5 L207.5,527.5 M203,533 L207.5,527 L211.5,533"/>
  <path d="M206.5,586 L206.5,611.5 M200.5,603 L206.5,612 L214,601"/>
  <!-- 3b double arrow -->
  <path d="M390.4,558.5 C500,555.5 650,556 741,557.3 C770,558.5 790,556.5 801.1,556.2"/>
  <path d="M404.3,551 L390.4,558.5 L412.4,563.7"/>
  <path d="M787.8,550.4 L801.1,556.2 L790.1,563.7"/>
  <!-- underline regions -->
  <path d="M655,885 L734.7,885.8"/>
  <!-- type of gender arrow -->
  <path d="M141.2,893.7 C134,915 131.5,940 133,955 C135,985 143,1010 153.8,1028.4"/>
  <path d="M133.5,902.5 L141.2,893.7 L143.8,905.3"/>
  <path d="M146.8,1018 L153.8,1028.4 L158.4,1018"/>
</g>
<g fill="none" stroke="#000" stroke-width="1.8" stroke-linecap="round" stroke-linejoin="round">
  <!-- wedge double arrow -->
  <path d="M161.3,909.6 L233.4,914.2 M247,916 L329.3,918.3"/>
  <path d="M174.2,905 L161.3,909.6 L175.1,914.2"/>
  <path d="M318.8,914.2 L329.3,918.3 L320.2,921.1"/>
</g>
<g fill="none" stroke="#000" stroke-width="2.4" stroke-linecap="round">
  <ellipse cx="418.6" cy="861.4" rx="21.6" ry="21" stroke-dasharray="3.5 10" stroke-dashoffset="0.3"/>
  <ellipse cx="445.3" cy="965" rx="23" ry="25" stroke-dasharray="4 14.9" stroke-dashoffset="2.6"/>
</g>

<g fill="none" stroke="#000" stroke-linecap="round" stroke-linejoin="round">
<path stroke-width="2.7" d="M56.4,38.5L59.8,24.1Q60.9,21.2 62.9,21.8C65.6,22.4 65.4,25.9 63.5,38.5M65.2,27.0C66.6,21.2 73.4,20.7 72.5,27.0L70.8,38.5M80.6,27.0C74.4,27.0 72.8,38.5 79.0,38.5C85.2,38.5 86.9,27.0 80.6,27.0M98.8,29.1C97.2,26.4 89.5,27.0 88.6,33.3C87.7,39.1 95.3,39.1 98.2,33.9M101.8,15.5L97.7,36.8Q97.6,38.5 99.9,37.9M104.4,32.8C108.5,32.8 113.4,32.2 113.4,29.9C112.9,26.4 104.6,26.4 103.6,33.3C102.8,39.1 110.4,39.1 113.8,36.2M121.7,15.5C119.8,22.4 117.5,31.6 117.5,36.8Q117.9,38.5 121.2,37.9"><title>Model</title></path>
<path stroke-width="2.7" d="M150.8,23.2L156.0,19.9L152.8,37.5M147.3,37.5L158.2,37.5"><title>1</title></path>
<path stroke-width="2.7" d="M179.0,27.2L179.1,27.8M178.3,35.0L178.5,35.5"><title>:</title></path>
<path stroke-width="2.7" d="M204.4,24.4L200.3,42.0M204.4,24.4C217.3,23.3 215.5,32.6 202.9,32.6C217.2,32.6 215.4,42.5 200.3,42.0M221.6,31.0L219.2,42.0M222.9,25.5L223.0,26.1M228.1,31.0L226.1,42.0M227.3,35.4C229.9,30.4 239.5,30.4 238.6,35.4L237.7,42.0M255.7,33.0C253.7,30.4 244.3,31.0 243.2,37.0C242.2,42.5 251.4,42.5 254.9,37.6M256.6,31.0L254.4,40.4Q254.2,42.0 257.0,41.5M262.7,31.0L260.6,42.0M261.7,36.0C264.2,31.6 269.5,30.4 272.6,32.1M275.1,31.0L279.5,42.0M288.2,31.0L277.0,53.0C274.5,57.4 270.4,56.9 270.8,54.6"><title>Binary</title></path>
<path stroke-width="2.6" d="M236.3,137.9L239.9,123.8L243.5,133.2L250.3,123.8L249.2,137.9M262.0,130.2C260.4,128.0 253.2,128.5 252.4,133.7C251.6,138.4 258.7,138.4 261.4,134.1M262.7,128.5L261.0,136.5Q260.9,137.9 263.0,137.4M270.6,119.1C268.9,124.7 266.7,132.3 266.7,136.5Q267.1,137.9 270.1,137.4M274.9,133.2C278.7,133.2 283.3,132.7 283.3,130.8C282.8,128.0 275.1,128.0 274.1,133.7C273.4,138.4 280.5,138.4 283.7,136.0"><title>Male</title></path>
<path stroke-width="2.6" d="M505.7,119.6L502.7,132.8M505.7,119.6L513.5,119.2M504.3,126.0L510.2,125.8M514.9,128.6C518.7,128.6 523.2,128.1 523.1,126.4C522.7,123.9 515.1,123.9 514.2,129.0C513.4,133.2 520.4,133.2 523.5,131.1M527.5,124.3L526.0,132.8M526.9,127.7C528.8,123.9 534.1,123.9 533.4,127.7L532.5,132.8M533.4,127.7C535.4,123.9 540.8,123.9 540.1,127.7L539.2,132.8M552.6,125.8C551.1,123.9 544.1,124.3 543.3,129.0C542.5,133.2 549.4,133.2 552.0,129.4M553.3,124.3L551.6,131.5Q551.5,132.8 553.6,132.4M560.9,115.8C559.3,120.9 557.2,127.7 557.1,131.5Q557.5,132.8 560.5,132.4M565.1,128.6C568.9,128.6 573.3,128.1 573.3,126.4C572.8,123.9 565.3,123.9 564.4,129.0C563.6,133.2 570.6,133.2 573.7,131.1"><title>Female</title></path>
<path stroke-width="2.7" d="M48.1,179.6L51.1,166.6Q52.0,164.0 53.8,164.5C56.1,165.0 55.9,168.2 54.3,179.6M55.8,169.2C57.0,164.0 63.0,163.5 62.2,169.2L60.7,179.6M69.3,169.2C63.9,169.2 62.4,179.6 67.9,179.6C73.3,179.6 74.8,169.2 69.3,169.2M85.3,171.1C83.8,168.7 77.1,169.2 76.3,174.9C75.5,180.1 82.2,180.1 84.7,175.4M87.8,158.8L84.3,178.0Q84.2,179.6 86.2,179.1M90.1,174.4C93.8,174.4 98.1,173.9 98.0,171.8C97.6,168.7 90.3,168.7 89.5,174.9C88.7,180.1 95.4,180.1 98.4,177.5M105.2,158.8C103.7,165.0 101.6,173.4 101.6,178.0Q102.0,179.6 104.8,179.1"><title>Model</title></path>
<path stroke-width="2.7" d="M134.1,166.3C136.2,162.1 149.7,162.1 147.4,167.2C145.5,170.6 133.0,173.9 130.3,176.5L146.8,176.5"><title>2</title></path>
<path stroke-width="2.7" d="M168.0,169.2L168.2,169.7M167.2,176.2L167.3,176.7"><title>:</title></path>
<path stroke-width="2.7" d="M189.7,183.1L201.2,164.7L205.7,183.1M194.8,176.2L203.8,176.2"><title>A</title></path>
<path stroke-width="2.7" d="M243.0,170.0C241.2,167.2 232.6,167.7 232.6,171.8C232.6,175.6 242.8,175.1 241.9,179.3C241.1,183.5 231.0,183.5 229.2,180.7M246.4,173.7L242.1,193.2M245.7,177.4C249.2,173.2 258.5,173.2 257.5,178.3C256.4,183.5 247.1,183.5 244.7,181.1M261.9,178.3C266.6,178.3 272.1,177.9 272.0,176.0C271.5,173.2 262.2,173.2 261.1,178.8C260.1,183.5 268.7,183.5 272.5,181.1M288.0,175.1C285.3,173.2 277.4,173.7 276.5,178.3C275.5,183.5 284.0,183.5 287.6,181.1M298.0,166.3L294.3,181.6Q294.3,183.2 298.8,182.5M291.5,173.7L301.6,173.5M304.6,173.7L302.7,183.0M303.7,177.9C306.0,174.2 310.8,173.2 313.7,174.6M316.8,173.7L315.7,179.3C314.8,183.5 324.9,183.5 326.1,179.3M327.2,173.7L325.6,183.0M331.7,173.7L329.8,183.0M330.9,177.4C333.3,173.2 339.8,173.2 339.0,177.4L337.9,183.0M339.0,177.4C341.4,173.2 348.0,173.2 347.2,177.4L346.1,183.0M351.1,182.5L351.4,183.0"><title>Spectrum.</title></path>
<path stroke-width="2.7" d="M376.2,171.7L378.2,182.5L383.2,174.4L385.7,182.5L391.3,171.7M396.2,171.7L394.2,182.5M397.4,166.3L397.4,166.8M407.1,163.1L403.7,180.9Q403.7,182.7 407.8,182.0M401.1,171.7L410.5,171.5M416.0,160.9L411.5,182.5M412.8,176.0C415.5,171.2 423.5,170.6 422.6,176.0L422.0,182.5"><title>with</title></path>
<path stroke-width="2.7" d="M451.7,173.0L449.9,182.5M450.9,176.8C453.3,172.5 459.6,172.5 458.8,176.8L457.7,182.5M458.8,176.8C461.1,172.5 467.6,172.5 466.8,176.8L465.7,182.5M481.8,174.7C480.0,172.5 471.6,173.0 470.6,178.2C469.7,183.0 478.0,183.0 481.1,178.7M482.6,173.0L480.6,181.1Q480.5,182.5 483.0,182.0M491.8,163.5C489.8,169.2 487.3,176.8 487.3,181.1Q487.8,182.5 491.3,182.0M496.8,177.8C501.4,177.8 506.7,177.3 506.6,175.4C506.1,172.5 497.1,172.5 496.0,178.2C495.1,183.0 503.4,183.0 507.2,180.6"><title>male</title></path>
<path stroke-width="2.7" d="M529.5,167.7C527.1,165.5 525.6,168.5 528.6,168.1L519.6,178.6L530.7,178.2L527.3,170.7"><title>&amp;</title></path>
<path stroke-width="2.7" d="M564.2,159.5C562.1,156.5 557.5,157.5 556.5,163.5L553.6,178.5M551.1,169.0L561.4,168.5M564.8,173.5C569.2,173.5 574.4,173.0 574.3,171.0C573.8,168.0 565.0,168.0 564.0,174.0C563.1,179.0 571.1,179.0 574.8,176.5M579.4,168.5L577.6,178.5M578.7,172.5C580.9,168.0 587.0,168.0 586.3,172.5L585.2,178.5M586.3,172.5C588.5,168.0 594.8,168.0 594.0,172.5L592.9,178.5M608.5,170.3C606.7,168.0 598.6,168.5 597.7,174.0C596.8,179.0 604.8,179.0 607.8,174.5M609.3,168.5L607.3,177.0Q607.2,178.5 609.6,178.0M618.2,158.5C616.2,164.5 613.8,172.5 613.8,177.0Q614.2,178.5 617.7,178.0M623.0,173.5C627.4,173.5 632.5,173.0 632.5,171.0C632.0,168.0 623.2,168.0 622.2,174.0C621.3,179.0 629.3,179.0 633.0,176.5"><title>female</title></path>
<path stroke-width="2.7" d="M676.6,168.6C674.2,166.2 663.5,166.7 662.3,172.6C661.1,178.0 671.7,178.0 675.6,173.2M677.6,166.7L675.1,175.9Q674.9,177.5 678.1,177.0M695.9,167.8C693.3,166.2 685.5,166.7 684.9,169.4C684.2,172.6 695.0,171.6 694.3,174.8C693.7,178.0 684.0,178.0 681.9,176.4"><title>as</title></path>
<path stroke-width="2.7" d="M189.3,194.3L186.0,209.8Q186.0,211.4 190.0,210.7M183.4,201.8L192.7,201.6M198.0,192.4L193.6,211.2M194.9,205.6C197.5,201.3 205.4,200.9 204.5,205.6L203.9,211.2M209.6,206.5C213.8,206.5 218.9,206.0 218.8,204.1C218.3,201.3 209.8,201.3 208.8,207.0C207.9,211.7 215.7,211.7 219.2,209.3"><title>the</title></path>
<path stroke-width="2.7" d="M245.7,206.5C249.9,206.5 255.0,206.0 254.9,204.1C254.4,201.3 245.9,201.3 244.9,207.0C244.0,211.7 251.8,211.7 255.3,209.3M259.1,201.8L267.3,211.2M269.0,201.8L257.4,211.2M276.9,194.3L273.6,209.8Q273.5,211.4 277.6,210.7M271.0,201.8L280.3,201.6M282.9,201.8L281.2,211.2M282.2,206.0C284.3,202.3 288.7,201.3 291.3,202.7M294.0,206.5C298.2,206.5 303.3,206.0 303.2,204.1C302.7,201.3 294.2,201.3 293.2,207.0C292.3,211.7 300.1,211.7 303.7,209.3M308.2,201.8L306.5,211.2M307.5,205.6C309.7,201.3 315.6,201.3 314.9,205.6L313.8,211.2M314.9,205.6C317.0,201.3 323.1,201.3 322.4,205.6L321.4,211.2M326.7,206.5C331.0,206.5 336.0,206.0 336.0,204.1C335.5,201.3 327.0,201.3 325.9,207.0C325.1,211.7 332.9,211.7 336.4,209.3M349.2,202.7C347.4,201.3 341.6,201.8 341.2,204.1C340.7,207.0 348.7,206.0 348.1,208.8C347.6,211.7 340.5,211.7 339.0,210.3"><title>extremes</title></path>
<path stroke-width="2.6" d="M232.0,303.5L235.6,289.2L239.1,298.8L245.8,289.2L244.7,303.5M257.3,295.7C255.8,293.5 248.7,294.0 247.9,299.2C247.1,304.0 254.1,304.0 256.7,299.7M258.0,294.0L256.3,302.1Q256.2,303.5 258.3,303.0M265.8,284.5C264.1,290.2 262.0,297.8 261.9,302.1Q262.3,303.5 265.3,303.0M270.0,298.8C273.8,298.8 278.3,298.3 278.3,296.4C277.8,293.5 270.2,293.5 269.3,299.2C268.5,304.0 275.5,304.0 278.7,301.6"><title>Male</title></path>
<path stroke-width="2.6" d="M502.2,285.6L499.3,298.0M502.2,285.6L509.9,285.2M500.8,291.6L506.7,291.4M511.2,294.0C514.9,294.0 519.3,293.6 519.2,292.0C518.8,289.6 511.4,289.6 510.5,294.4C509.8,298.4 516.6,298.4 519.6,296.4M523.5,290.0L522.0,298.0M522.9,293.2C524.8,289.6 530.0,289.6 529.3,293.2L528.4,298.0M529.3,293.2C531.2,289.6 536.5,289.6 535.8,293.2L535.0,298.0M548.1,291.4C546.6,289.6 539.8,290.0 538.9,294.4C538.2,298.4 545.0,298.4 547.5,294.8M548.7,290.0L547.1,296.8Q547.0,298.0 549.1,297.6M556.2,282.0C554.6,286.8 552.6,293.2 552.5,296.8Q552.9,298.0 555.8,297.6M560.3,294.0C564.0,294.0 568.4,293.6 568.3,292.0C567.9,289.6 560.5,289.6 559.6,294.4C558.9,298.4 565.6,298.4 568.7,296.4"><title>Female</title></path>
<path stroke-width="2.7" d="M58.9,329.0L55.1,347.7L64.9,347.7M69.3,342.2C73.7,342.2 78.9,341.6 78.8,339.4C78.3,336.1 69.6,336.1 68.5,342.8C67.6,348.2 75.7,348.2 79.3,345.5M89.3,327.9L85.8,346.1Q85.8,347.9 90.0,347.1M83.2,336.7L92.7,336.5M104.1,337.8C102.1,336.1 96.2,336.7 95.8,339.4C95.2,342.8 103.4,341.6 102.9,344.9C102.4,348.2 95.1,348.2 93.4,346.6"><title>Lets</title></path>
<path stroke-width="2.7" d="M134.4,327.9L130.4,346.1Q130.4,347.9 135.3,347.1M127.3,336.7L138.4,336.5M144.8,325.7L139.6,347.7M141.1,341.1C144.3,336.1 153.7,335.6 152.7,341.1L152.0,347.7M161.5,336.7L159.1,347.7M162.8,331.2L162.9,331.8M168.1,336.7L166.1,347.7M167.3,341.1C169.9,336.1 179.6,336.1 178.7,341.1L177.8,347.7M187.6,325.7L182.4,347.7M195.4,336.7L183.8,342.8L194.3,347.7"><title>think</title></path>
<path stroke-width="2.7" d="M222.8,338.5C221.2,335.7 213.8,336.3 213.0,342.9C212.2,348.9 219.5,348.9 222.2,343.5M223.5,336.3L221.8,346.5Q221.7,348.3 223.9,347.7M230.8,324.3L226.7,348.3M228.0,341.1C231.0,335.7 239.0,335.7 238.1,342.3C237.2,348.9 229.3,348.9 227.1,346.5M247.4,336.3C241.4,336.3 239.8,348.3 245.8,348.3C251.7,348.3 253.3,336.3 247.4,336.3M255.8,336.3L254.9,343.5C254.2,348.9 262.8,348.9 263.8,343.5M264.7,336.3L263.4,348.3M273.4,326.7L270.3,346.5Q270.3,348.5 274.1,347.7M267.9,336.3L276.5,336.1"><title>about</title></path>
<path stroke-width="2.7" d="M301.8,340.4C307.2,340.4 313.6,339.8 313.5,337.6C312.9,334.3 302.1,334.3 300.8,340.9C299.7,346.4 309.6,346.4 314.1,343.7M319.0,334.9L329.4,345.9M331.6,334.9L316.8,345.9M335.6,334.9L330.5,358.0M334.7,339.3C338.8,334.3 349.6,334.3 348.4,340.4C347.2,346.4 336.4,346.4 333.5,343.7M366.1,336.9C363.9,334.3 353.8,334.9 352.7,340.9C351.6,346.4 361.5,346.4 365.2,341.5M367.0,334.9L364.7,344.2Q364.5,345.9 367.5,345.3M373.6,334.9L371.4,345.9M372.7,339.3C375.5,334.3 385.8,334.3 384.8,339.3L383.9,345.9M403.2,336.9C401.0,334.3 390.9,334.9 389.7,340.9C388.6,346.4 398.6,346.4 402.3,341.5M407.0,323.9L401.7,344.2Q401.6,345.9 404.6,345.3M413.3,334.9L410.8,345.9M414.8,329.4L414.9,329.9M420.4,334.9L418.2,345.9M419.5,339.3C422.3,334.3 432.6,334.3 431.6,339.3L430.7,345.9M450.0,336.9C447.8,334.3 437.8,334.9 436.7,340.4C435.6,345.9 445.5,345.9 449.1,341.5M451.0,334.9L446.1,356.9C443.9,363.5 433.0,363.5 433.2,358.0"><title>expanding</title></path>
<path stroke-width="2.7" d="M485.9,327.9L481.7,344.4Q481.7,346.1 486.7,345.4M478.7,335.9L490.0,335.7M496.5,325.9L491.2,345.9M492.8,339.9C496.0,335.4 505.6,334.9 504.6,339.9L503.8,345.9M513.6,335.9L511.1,345.9M515.0,330.9L515.0,331.4M530.5,336.9C528.3,335.4 521.2,335.9 520.7,338.4C520.1,341.4 529.8,340.4 529.2,343.4C528.6,346.4 519.9,346.4 517.9,344.9"><title>this</title></path>
<path stroke-width="2.7" d="M569.7,334.1L566.6,344.1M571.4,329.1L571.5,329.6M578.2,334.1L575.5,344.1M577.1,338.1C580.5,333.6 592.8,333.6 591.6,338.1L590.5,344.1"><title>in</title></path>
<path stroke-width="2.7" d="M626.2,324.3L622.3,342.5Q622.3,344.3 627.0,343.6M619.4,333.1L630.1,332.9M632.3,333.1L634.6,344.1L640.4,335.9L643.1,344.1L649.5,333.1M659.2,333.1C651.8,333.1 649.9,344.1 657.3,344.1C664.6,344.1 666.6,333.1 659.2,333.1"><title>two</title></path>
<path stroke-width="2.7" d="M687.4,334.1L690.0,344.1L696.7,336.6L699.9,344.1L707.3,334.1M723.8,335.9C721.5,333.6 710.9,334.1 709.7,339.6C708.5,344.6 719.0,344.6 722.8,340.1M724.8,334.1L722.3,342.6Q722.1,344.1 725.3,343.6M730.7,334.1L735.6,344.1M745.5,334.1L732.8,354.1C730.0,358.1 725.3,357.6 725.8,355.6M760.3,335.1C757.8,333.6 750.1,334.1 749.5,336.6C748.8,339.6 759.5,338.6 758.8,341.6C758.1,344.6 748.6,344.6 746.5,343.1M763.9,343.6L764.1,344.1M771.3,343.6L771.5,344.1M778.7,343.6L778.9,344.1"><title>ways...</title></path>
<path stroke-width="2.7" d="M44.2,465.0L42.6,477.5M43.5,470.0C45.7,464.4 51.4,464.4 50.7,470.0L49.7,477.5M50.7,470.0C52.8,464.4 58.7,464.4 58.0,470.0L57.0,477.5M67.8,465.0C61.7,465.0 60.0,477.5 66.2,477.5C72.4,477.5 74.0,465.0 67.8,465.0M86.0,467.2C84.3,464.4 76.6,465.0 75.7,471.9C74.9,478.1 82.5,478.1 85.3,472.5M88.9,452.5L84.8,475.6Q84.7,477.5 87.0,476.9M91.5,471.2C95.6,471.2 100.5,470.6 100.4,468.1C99.9,464.4 91.7,464.4 90.7,471.9C89.9,478.1 97.4,478.1 100.9,475.0M108.6,452.5C106.8,460.0 104.6,470.0 104.5,475.6Q104.9,477.5 108.2,476.9"><title>model</title></path>
<path stroke-width="2.7" d="M135.6,463.0C141.3,460.0 150.8,461.5 147.9,465.5C145.2,468.5 139.2,469.0 139.2,469.0C150.9,469.5 147.9,478.0 137.1,477.5Q133.2,477.5 131.5,476.0M166.6,469.3C164.2,467.0 153.2,467.5 151.9,473.0C150.7,478.0 161.6,478.0 165.6,473.5M167.6,467.5L165.0,476.0Q164.8,477.5 168.1,477.0M175.4,469.0L175.7,469.5M173.7,476.0L174.0,476.5"><title>3a:</title></path>
<path stroke-width="2.7" d="M192.3,478.0L200.3,460.4L203.4,478.0M195.9,471.4L202.2,471.4M216.4,469.0C214.8,466.4 207.5,467.0 206.6,473.1C205.9,478.6 213.0,478.6 215.7,473.6M219.1,456.0L215.3,476.4Q215.2,478.0 217.4,477.4M230.6,469.0C229.0,466.4 221.7,467.0 220.9,473.1C220.1,478.6 227.3,478.6 229.9,473.6M233.3,456.0L229.5,476.4Q229.4,478.0 231.6,477.4"><title>Add</title></path>
<path stroke-width="2.7" d="M266.3,469.0C263.9,466.4 253.1,467.0 251.8,473.1C250.6,478.6 261.3,478.6 265.3,473.6M267.3,467.0L264.7,476.4Q264.6,478.0 267.8,477.4M274.3,467.0L272.0,478.0M273.4,471.4C276.4,466.4 287.5,466.4 286.4,471.4L285.4,478.0"><title>an</title></path>
<path stroke-width="2.7" d="M106.3,496.4C104.0,493.6 93.8,494.2 92.6,500.8C91.5,506.8 101.6,506.8 105.4,501.4M107.2,494.2L104.8,504.4Q104.7,506.2 107.7,505.6M112.9,494.2L123.6,506.2M125.8,494.2L110.7,506.2M132.1,494.2L129.5,506.2M133.6,488.2L133.7,488.8M150.1,495.4C147.7,493.6 140.2,494.2 139.7,497.2C139.0,500.8 149.4,499.6 148.7,503.2C148.0,506.8 138.8,506.8 136.7,505.0M153.6,505.6L153.8,506.2"><title>axis.</title></path>
<path stroke-width="2.7" d="M214.1,498.7C212.4,496.1 204.3,496.7 203.4,502.8C202.5,508.2 210.5,508.2 213.4,503.3M214.9,496.7L213.0,506.1Q212.9,507.7 215.3,507.1M229.9,498.7C228.2,496.1 220.1,496.7 219.2,502.2C218.4,507.7 226.3,507.7 229.2,503.3M230.7,496.7L226.8,518.7C225.0,525.3 216.3,525.3 216.5,519.8M235.0,502.2C239.4,502.2 244.5,501.6 244.4,499.4C243.9,496.1 235.3,496.1 234.2,502.8C233.3,508.2 241.3,508.2 244.9,505.5M249.5,496.7L247.8,507.7M248.8,501.1C251.0,496.1 259.3,496.1 258.5,501.1L257.8,507.7M273.2,498.7C271.5,496.1 263.4,496.7 262.5,502.8C261.6,508.2 269.5,508.2 272.5,503.3M276.3,485.7L272.1,506.1Q272.0,507.7 274.4,507.1M279.1,502.2C283.4,502.2 288.6,501.6 288.5,499.4C288.0,496.1 279.3,496.1 278.2,502.8C277.4,508.2 285.3,508.2 289.0,505.5M293.5,496.7L291.8,507.7M292.8,501.6C294.9,497.2 299.4,496.1 302.0,497.8"><title>agender</title></path>
<path stroke-width="2.7" d="M224.5,533.3C223.0,539.9 221.2,548.7 221.2,553.6Q221.5,555.3 224.1,554.8M228.1,549.8C231.4,549.8 235.3,549.2 235.2,547.0C234.8,543.8 228.2,543.8 227.5,550.3C226.8,555.8 232.8,555.8 235.6,553.1M245.5,545.4C244.0,543.8 239.6,544.3 239.2,547.0C238.8,550.3 245.0,549.2 244.6,552.5C244.2,555.8 238.7,555.8 237.5,554.2M254.6,545.4C253.2,543.8 248.8,544.3 248.4,547.0C248.0,550.3 254.2,549.2 253.8,552.5C253.4,555.8 247.9,555.8 246.7,554.2"><title>less</title></path>
<path stroke-width="2.7" d="M281.6,548.0C280.2,545.7 273.7,546.2 273.0,551.2C272.3,556.2 278.7,556.2 281.0,552.2M282.2,546.2L279.1,566.2C277.6,572.2 270.6,572.2 270.8,567.2M285.7,551.2C289.2,551.2 293.3,550.7 293.3,548.7C292.9,545.7 285.9,545.7 285.0,551.7C284.3,556.7 290.8,556.7 293.7,554.2M297.4,546.2L296.0,556.2M296.8,550.2C298.6,545.7 305.2,545.7 304.6,550.2L304.0,556.2M316.5,548.0C315.0,545.7 308.5,546.2 307.8,551.7C307.1,556.7 313.5,556.7 315.9,552.2M318.9,536.2L315.5,554.7Q315.4,556.2 317.4,555.7M321.1,551.2C324.6,551.2 328.8,550.7 328.7,548.7C328.3,545.7 321.3,545.7 320.5,551.7C319.8,556.7 326.2,556.7 329.1,554.2M332.8,546.2L331.4,556.2M332.2,550.7C333.9,546.7 337.5,545.7 339.7,547.2"><title>gender</title></path>
<path stroke-width="2.7" d="M228.2,597.7L226.8,609.7M227.7,602.5C229.4,597.1 234.2,597.1 233.6,602.5L232.8,609.7M233.6,602.5C235.4,597.1 240.3,597.1 239.7,602.5L238.8,609.7M247.8,597.7C242.7,597.7 241.3,609.7 246.5,609.7C251.6,609.7 253.0,597.7 247.8,597.7M255.1,597.7L253.8,609.7M254.5,603.1C256.2,598.3 259.8,597.1 261.9,598.9M264.0,603.7C267.5,603.7 271.5,603.1 271.5,600.7C271.1,597.1 264.2,597.1 263.4,604.3C262.7,610.3 269.0,610.3 271.8,607.3"><title>more</title></path>
<path stroke-width="2.7" d="M294.5,603.4C293.2,601.1 287.0,601.6 286.3,606.6C285.6,611.6 291.8,611.6 294.0,607.6M295.1,601.6L292.1,621.6C290.7,627.6 284.0,627.6 284.2,622.6M298.4,606.6C301.8,606.6 305.8,606.1 305.7,604.1C305.3,601.1 298.6,601.1 297.8,607.1C297.2,612.1 303.3,612.1 306.1,609.6M309.6,601.6L308.3,611.6M309.1,605.6C310.8,601.1 317.1,601.1 316.5,605.6L316.0,611.6M327.9,603.4C326.5,601.1 320.3,601.6 319.6,607.1C318.9,612.1 325.0,612.1 327.3,607.6M330.2,591.6L327.0,610.1Q326.9,611.6 328.7,611.1M332.3,606.6C335.7,606.6 339.7,606.1 339.6,604.1C339.2,601.1 332.5,601.1 331.7,607.1C331.0,612.1 337.2,612.1 340.0,609.6M343.5,601.6L342.2,611.6M342.9,606.1C344.5,602.1 348.0,601.1 350.0,602.6"><title>gender</title></path>
<path stroke-width="2.6" d="M12.5,733.3L16.1,720.5L19.7,729.0L26.5,720.5L25.4,733.3M38.2,726.3C36.6,724.4 29.4,724.8 28.6,729.5C27.8,733.7 34.9,733.7 37.6,729.9M38.9,724.8L37.2,732.0Q37.1,733.3 39.2,732.9M46.8,716.3C45.1,721.4 42.9,728.2 42.9,732.0Q43.3,733.3 46.3,732.9M51.1,729.0C54.9,729.0 59.5,728.6 59.5,726.9C59.0,724.4 51.3,724.4 50.3,729.5C49.6,733.7 56.7,733.7 59.9,731.6"><title>Male</title></path>
<path stroke-width="2.6" d="M281.9,716.2L278.9,729.1M281.9,716.2L289.9,715.8M280.5,722.5L286.6,722.3M291.3,725.0C295.2,725.0 299.7,724.5 299.7,722.9C299.2,720.4 291.5,720.4 290.6,725.4C289.8,729.5 296.9,729.5 300.1,727.4M304.1,720.8L302.6,729.1M303.5,724.1C305.5,720.4 310.9,720.4 310.2,724.1L309.3,729.1M310.2,724.1C312.2,720.4 317.7,720.4 317.0,724.1L316.0,729.1M329.7,722.3C328.2,720.4 321.0,720.8 320.2,725.4C319.4,729.5 326.5,729.5 329.1,725.8M330.4,720.8L328.7,727.9Q328.6,729.1 330.7,728.7M338.2,712.5C336.5,717.5 334.4,724.1 334.3,727.9Q334.8,729.1 337.8,728.7M342.4,725.0C346.3,725.0 350.8,724.5 350.8,722.9C350.3,720.4 342.6,720.4 341.7,725.4C341.0,729.5 348.0,729.5 351.2,727.4"><title>Female</title></path>
<path stroke-width="2.7" d="M405.4,477.7L409.1,463.9Q410.3,461.2 412.5,461.8C415.4,462.3 415.2,465.6 413.2,477.7M415.0,466.7C416.5,461.2 423.9,460.6 422.9,466.7L421.1,477.7M431.8,466.7C425.0,466.7 423.2,477.7 430.0,477.7C436.8,477.7 438.6,466.7 431.8,466.7M451.6,468.7C449.8,466.1 441.4,466.7 440.4,472.8C439.5,478.2 447.8,478.2 450.9,473.3M454.8,455.7L450.4,476.1Q450.3,477.7 452.8,477.1M457.7,472.2C462.2,472.2 467.5,471.6 467.4,469.4C466.9,466.1 457.9,466.1 456.8,472.8C455.9,478.2 464.2,478.2 467.9,475.5M476.5,455.7C474.5,462.3 472.0,471.1 471.9,476.1Q472.4,477.7 475.9,477.1"><title>Model</title></path>
<path stroke-width="2.7" d="M504.3,462.7C508.1,459.4 514.4,461.0 512.5,465.4C510.7,468.7 506.7,469.2 506.7,469.2C514.4,469.8 512.5,479.2 505.3,478.6Q502.7,478.6 501.7,477.0M518.4,456.6L514.4,478.6M515.7,472.0C518.6,467.1 526.5,467.1 525.6,473.1C524.8,479.2 516.9,479.2 514.7,477.0M530.0,469.2L530.1,469.8M528.9,477.0L529.1,477.5"><title>3b:</title></path>
<path stroke-width="2.7" d="M549.5,464.4L545.4,480.4M549.5,464.4C562.5,463.4 560.7,472.4 547.8,472.4L558.2,480.4M563.7,475.4C568.8,475.4 574.9,474.9 574.8,472.9C574.2,469.9 563.9,469.9 562.7,475.9C561.7,480.9 571.1,480.9 575.4,478.4M579.7,475.4L586.6,475.4M603.4,471.9C600.4,469.9 591.7,470.4 590.7,475.4C589.6,480.9 599.0,480.9 602.9,478.4M615.0,470.4C607.3,470.4 605.2,480.4 612.9,480.4C620.6,480.4 622.7,470.4 615.0,470.4M626.0,470.4L623.9,480.4M625.1,474.4C627.8,469.9 637.5,469.9 636.6,474.4L635.7,480.4M652.4,471.4C650.2,469.9 643.2,470.4 642.7,472.9C642.1,475.9 651.7,474.9 651.1,477.9C650.5,480.9 641.9,480.9 640.0,479.4M659.3,470.4L656.9,480.4M660.7,465.4L660.8,465.9M677.6,472.2C675.5,469.9 666.0,470.4 664.9,475.9C663.8,480.9 673.2,480.9 676.7,476.4M681.2,460.4L676.2,478.9Q676.1,480.4 678.9,479.9M684.5,475.4C689.6,475.4 695.7,474.9 695.6,472.9C695.0,469.9 684.7,469.9 683.5,475.9C682.5,480.9 691.9,480.9 696.2,478.4M701.6,470.4L699.5,480.4M700.7,474.9C703.2,470.9 708.5,469.9 711.7,471.4"><title>Re-consider</title></path>
<path stroke-width="2.7" d="M465.2,490.7L461.0,503.1Q460.9,504.3 466.1,503.8M457.8,496.7L469.5,496.6M476.3,489.2L470.7,504.2M472.4,499.7C475.7,496.3 485.7,495.9 484.6,499.7L483.8,504.2M491.0,500.4C496.4,500.4 502.8,500.1 502.7,498.6C502.1,496.3 491.3,496.3 490.0,500.8C489.0,504.6 498.9,504.6 503.4,502.7"><title>the</title></path>
<path stroke-width="2.7" d="M519.7,501.6C524.8,501.6 530.8,501.2 530.7,499.7C530.1,497.4 520.0,497.4 518.8,502.0C517.7,505.8 527.0,505.8 531.2,503.9M536.6,497.8L534.5,505.4M535.7,500.8C538.3,497.4 547.9,497.4 547.0,500.8L546.2,505.4M564.2,499.2C562.1,497.4 552.7,497.8 551.6,502.0C550.6,505.8 559.9,505.8 563.3,502.4M567.7,490.2L562.8,504.3Q562.7,505.4 565.5,505.0M571.6,497.8L566.9,513.8M570.8,500.8C574.6,497.4 584.7,497.4 583.6,501.6C582.5,505.8 572.3,505.8 569.7,503.9M595.4,497.8C587.8,497.8 585.8,505.4 593.3,505.4C600.9,505.4 602.9,497.8 595.4,497.8M608.7,497.8L606.3,505.4M610.0,494.0L610.1,494.4M615.3,497.8L613.2,505.4M614.4,500.8C617.0,497.4 626.6,497.4 625.7,500.8L624.9,505.4M637.6,491.7L633.6,504.3Q633.6,505.6 638.4,505.0M630.6,497.8L641.6,497.6M654.7,498.6C652.4,497.4 645.6,497.8 645.1,499.7C644.5,502.0 653.9,501.2 653.3,503.5C652.7,505.8 644.3,505.8 642.4,504.6"><title>endpoints</title></path>
<path stroke-width="2.6" d="M439.2,596.6L442.8,584.9L446.3,592.7L452.9,584.9L451.9,596.6M464.5,590.2C462.9,588.4 455.9,588.8 455.0,593.1C454.3,597.0 461.3,597.0 463.8,593.5M465.1,588.8L463.5,595.4Q463.4,596.6 465.5,596.2M472.9,581.0C471.2,585.7 469.1,591.9 469.1,595.4Q469.5,596.6 472.5,596.2M477.1,592.7C480.9,592.7 485.4,592.3 485.4,590.8C484.9,588.4 477.3,588.4 476.4,593.1C475.6,597.0 482.6,597.0 485.8,595.0"><title>Male</title></path>
<path stroke-width="2.6" d="M710.2,579.0L707.3,591.4M710.2,579.0L717.7,578.6M708.8,585.0L714.6,584.8M719.1,587.4C722.7,587.4 727.0,587.0 726.9,585.4C726.5,583.0 719.2,583.0 718.4,587.8C717.6,591.8 724.3,591.8 727.3,589.8M731.2,583.4L729.7,591.4M730.6,586.6C732.5,583.0 737.5,583.0 736.9,586.6L736.0,591.4M736.9,586.6C738.8,583.0 744.0,583.0 743.3,586.6L742.4,591.4M755.4,584.8C753.9,583.0 747.2,583.4 746.4,587.8C745.6,591.8 752.3,591.8 754.8,588.2M756.0,583.4L754.4,590.2Q754.3,591.4 756.3,591.0M763.4,575.4C761.8,580.2 759.8,586.6 759.8,590.2Q760.1,591.4 763.0,591.0M767.4,587.4C771.0,587.4 775.4,587.0 775.3,585.4C774.9,583.0 767.6,583.0 766.7,587.8C766.0,591.8 772.7,591.8 775.7,589.8"><title>Female</title></path>
<path stroke-width="2.7" d="M455.9,625.0L452.7,641.0Q452.7,642.7 456.6,642.0M450.2,632.8L459.2,632.6M464.3,623.1L460.1,642.5M461.3,636.7C463.9,632.3 471.4,631.8 470.6,636.7L470.1,642.5M475.5,637.6C479.6,637.6 484.5,637.2 484.4,635.2C483.9,632.3 475.7,632.3 474.8,638.1C473.9,643.0 481.4,643.0 484.9,640.6M497.2,633.8C495.4,632.3 489.9,632.8 489.4,635.2C489.0,638.1 496.6,637.2 496.1,640.1C495.6,643.0 488.8,643.0 487.3,641.5M500.5,637.6C504.6,637.6 509.5,637.2 509.4,635.2C508.9,632.3 500.7,632.3 499.7,638.1C498.9,643.0 506.4,643.0 509.9,640.6"><title>these</title></path>
<path stroke-width="2.7" d="M537.6,635.3C536.2,633.1 529.5,633.6 528.8,638.9C528.0,643.8 534.6,643.8 537.0,639.4M538.3,633.6L536.7,641.8Q536.6,643.3 538.6,642.8M542.6,633.6L541.1,643.3M541.9,638.0C543.7,634.1 547.4,633.1 549.6,634.6M551.9,638.4C555.5,638.4 559.7,638.0 559.6,636.0C559.2,633.1 552.1,633.1 551.2,638.9C550.5,643.8 557.1,643.8 560.0,641.4"><title>are</title></path>
<path stroke-width="2.7" d="M591.0,636.2L586.5,653.6C585.3,657.5 580.0,657.0 579.6,654.9M592.3,632.0L592.3,632.4M596.0,636.2L594.9,641.3C594.0,645.1 604.6,645.1 605.8,641.3M607.0,636.2L605.3,644.7M621.3,637.1C619.1,635.8 612.5,636.2 612.0,638.3C611.4,640.9 620.6,640.0 620.0,642.6C619.4,645.1 611.3,645.1 609.5,643.9M631.4,629.4L627.5,643.4Q627.5,644.9 632.2,644.3M624.6,636.2L635.3,636.0"><title>just</title></path>
<path stroke-width="2.7" d="M659.6,628.5L656.0,643.4Q656.0,644.9 660.4,644.2M653.2,635.7L663.3,635.5M665.4,635.7L667.5,644.7L672.9,638.0L675.5,644.7L681.5,635.7M690.5,635.7C683.6,635.7 681.8,644.7 688.7,644.7C695.6,644.7 697.4,635.7 690.5,635.7"><title>two</title></path>
<path stroke-width="2.7" d="M717.3,632.3L712.9,655.4M716.5,636.7C720.0,631.8 729.5,631.8 728.4,637.8C727.4,643.8 718.0,643.8 715.5,641.1M739.4,632.3C732.3,632.3 730.5,643.3 737.5,643.3C744.6,643.3 746.5,632.3 739.4,632.3M751.8,632.3L749.6,643.3M753.1,626.8L753.1,627.3M757.9,632.3L756.1,643.3M757.2,636.7C759.6,631.8 768.6,631.8 767.7,636.7L766.9,643.3M778.8,623.5L775.0,641.6Q775.0,643.5 779.5,642.8M772.2,632.3L782.5,632.1M794.6,633.4C792.6,631.8 786.2,632.3 785.7,635.0C785.2,638.3 794.0,637.2 793.4,640.5C792.9,643.8 785.0,643.8 783.2,642.2M799.0,642.2L796.0,647.7"><title>points,</title></path>
<path stroke-width="2.7" d="M453.4,655.9L451.5,664.6M452.6,659.4C455.1,655.5 464.2,655.5 463.3,659.4L462.5,664.6M475.2,655.9C467.9,655.9 466.0,664.6 473.2,664.6C480.4,664.6 482.4,655.9 475.2,655.9M491.3,648.9L487.5,663.3Q487.4,664.8 492.1,664.2M484.6,655.9L495.0,655.7"><title>not</title></path>
<path stroke-width="2.7" d="M527.6,650.9L525.1,654.2M531.8,650.9L529.4,654.2M534.2,662.8C539.3,662.8 545.4,662.3 545.3,660.4C544.7,657.5 534.5,657.5 533.3,663.2C532.2,668.0 541.6,668.0 545.9,665.6M550.4,658.0L560.3,667.5M562.3,658.0L548.4,667.5M571.8,650.4L567.7,666.1Q567.7,667.7 572.6,667.0M564.7,658.0L575.8,657.8M579.0,658.0L577.0,667.5M578.1,662.3C580.6,658.5 585.9,657.5 589.0,659.0M592.3,662.8C597.4,662.8 603.5,662.3 603.4,660.4C602.8,657.5 592.6,657.5 591.4,663.2C590.3,668.0 599.7,668.0 604.0,665.6M609.3,658.0L607.3,667.5M608.5,661.8C611.1,657.5 618.3,657.5 617.4,661.8L616.2,667.5M617.4,661.8C620.0,657.5 627.3,657.5 626.4,661.8L625.2,667.5M631.7,662.8C636.8,662.8 642.8,662.3 642.7,660.4C642.2,657.5 631.9,657.5 630.7,663.2C629.7,668.0 639.1,668.0 643.3,665.6M658.7,659.0C656.5,657.5 649.5,658.0 649.0,660.4C648.4,663.2 658.0,662.3 657.4,665.1C656.8,668.0 648.2,668.0 646.3,666.5M667.1,650.9L664.7,654.2M671.4,650.9L668.9,654.2"><title>“extremes”</title></path>
<path stroke-width="2.7" d="M46.4,797.3L49.9,783.8Q51.1,781.1 53.2,781.6C55.9,782.2 55.7,785.4 53.8,797.3M55.5,786.5C57.0,781.1 64.1,780.6 63.1,786.5L61.4,797.3M71.6,786.5C65.2,786.5 63.4,797.3 69.9,797.3C76.4,797.3 78.1,786.5 71.6,786.5M90.5,788.4C88.8,786.0 80.8,786.5 79.9,792.4C79.0,797.8 86.9,797.8 89.8,793.0M93.6,775.7L89.4,795.7Q89.3,797.3 91.7,796.8M96.3,791.9C100.6,791.9 105.7,791.4 105.6,789.2C105.1,786.0 96.5,786.0 95.5,792.4C94.6,797.8 102.5,797.8 106.1,795.1M114.2,775.7C112.4,782.2 110.0,790.8 109.9,795.7Q110.4,797.3 113.8,796.8"><title>Model</title></path>
<path stroke-width="2.7" d="M137.5,800.1L142.1,781.4L125.9,793.5L145.2,793.5M151.6,789.6L151.9,790.2M149.7,797.4L150.0,797.9"><title>4:</title></path>
<path stroke-width="2.7" d="M178.1,780.6L176.2,784.4M181.4,780.6L179.5,784.4M193.9,784.9C191.8,781.1 183.7,782.2 182.4,790.9C181.1,800.0 189.0,800.0 192.8,796.8M201.7,788.7C195.8,788.7 194.2,799.5 200.2,799.5C206.1,799.5 207.7,788.7 201.7,788.7M213.5,777.9C211.7,784.4 209.6,793.0 209.5,797.9Q209.9,799.5 213.0,799.0M223.2,788.7C217.3,788.7 215.7,799.5 221.7,799.5C227.6,799.5 229.2,788.7 223.2,788.7M231.7,788.7L230.1,799.5M231.0,793.6C232.9,789.2 237.0,788.2 239.4,789.8"><title>“Color</title></path>
<path stroke-width="2.7" d="M255.8,783.2L257.3,800.5L262.9,788.6L265.0,800.5L271.8,783.2M276.0,778.9L271.7,800.5M273.0,794.0C275.6,789.2 283.2,788.6 282.4,794.0L281.8,800.5M287.4,795.1C291.5,795.1 296.4,794.6 296.4,792.4C295.9,789.2 287.6,789.2 286.6,795.6C285.8,801.0 293.4,801.0 296.8,798.3M301.1,795.1C305.2,795.1 310.1,794.6 310.1,792.4C309.6,789.2 301.3,789.2 300.3,795.6C299.5,801.0 307.1,801.0 310.5,798.3M318.4,778.9C316.5,785.4 314.2,794.0 314.2,798.9Q314.6,800.5 317.9,800.0M326.4,781.6L324.4,785.4M329.9,781.6L327.9,785.4"><title>Wheel”</title></path>
<path stroke-width="2.7" d="M469.4,804.0L467.7,821.6M467.2,804.0L471.5,804.0M465.6,821.6L469.9,821.6M480.3,800.7C479.0,797.4 476.3,798.5 475.7,805.1L473.9,821.6M472.5,811.1L478.6,810.6"><title>If</title></path>
<path stroke-width="2.7" d="M499.2,810.0L500.7,820.4L504.7,812.6L506.6,820.4L510.9,810.0M513.0,815.2C516.3,815.2 520.3,814.7 520.3,812.6C519.9,809.5 513.1,809.5 512.3,815.7C511.7,820.9 517.8,820.9 520.7,818.3"><title>we</title></path>
<path stroke-width="2.7" d="M539.6,809.8L541.6,819.3L546.6,812.2L549.1,819.3L554.7,809.8M567.3,811.5C565.5,809.3 557.5,809.8 556.5,815.0C555.6,819.8 563.6,819.8 566.5,815.5M568.0,809.8L566.1,817.9Q566.0,819.3 568.4,818.8M573.2,809.8L571.5,819.3M572.5,813.6C574.7,809.3 583.0,809.3 582.2,813.6L581.4,819.3M592.4,802.2L588.9,817.9Q588.9,819.5 593.1,818.8M586.4,809.8L595.8,809.6M598.3,814.5C602.7,814.5 607.8,814.1 607.7,812.2C607.2,809.3 598.6,809.3 597.5,815.0C596.7,819.8 604.6,819.8 608.2,817.4M622.6,811.5C620.8,809.3 612.8,809.8 611.8,815.0C611.0,819.8 618.9,819.8 621.9,815.5M625.7,800.3L621.4,817.9Q621.3,819.3 623.7,818.8"><title>wanted</title></path>
<path stroke-width="2.7" d="M653.2,803.2L649.0,819.3Q649.0,821.0 654.0,820.3M646.0,811.0L657.3,810.8M667.5,811.0C659.7,811.0 657.6,820.8 665.4,820.8C673.2,820.8 675.3,811.0 667.5,811.0"><title>to</title></path>
<path stroke-width="2.7" d="M704.8,805.4L702.6,808.8M708.6,805.4L706.4,808.8M711.3,812.7L707.0,833.1M710.6,816.6C714.0,812.2 723.1,812.2 722.1,817.5C721.1,822.9 712.0,822.9 709.6,820.5M730.4,803.0C728.4,808.8 725.9,816.6 725.8,820.9Q726.3,822.4 729.9,821.9M745.8,814.4C743.9,812.2 735.5,812.7 734.5,818.0C733.6,822.9 741.9,822.9 745.0,818.5M746.6,812.7L744.6,820.9Q744.5,822.4 747.0,821.9M762.3,814.2C759.7,812.2 752.0,812.7 751.1,817.5C750.1,822.9 758.4,822.9 761.9,820.5M766.4,817.5C770.9,817.5 776.3,817.1 776.2,815.1C775.7,812.2 766.6,812.2 765.6,818.0C764.6,822.9 773.0,822.9 776.8,820.5M785.2,805.4L783.0,808.8M788.9,805.4L786.8,808.8"><title>“place”</title></path>
<path stroke-width="2.7" d="M490.4,838.5L488.8,850.5M489.8,843.3C491.9,837.9 497.7,837.9 497.0,843.3L496.0,850.5M497.0,843.3C499.1,837.9 505.1,837.9 504.4,843.3L503.4,850.5M518.2,840.7C516.5,837.9 508.8,838.5 507.9,845.1C507.0,851.1 514.7,851.1 517.5,845.7M518.9,838.5L517.1,848.7Q517.0,850.5 519.3,849.9M527.4,826.5C525.6,833.7 523.3,843.3 523.2,848.7Q523.7,850.5 527.0,849.9M532.0,844.5C536.2,844.5 541.2,843.9 541.1,841.5C540.6,837.9 532.3,837.9 531.3,845.1C530.4,851.1 538.1,851.1 541.5,848.1"><title>male</title></path>
<path stroke-width="2.7" d="M567.1,833.8C564.9,830.4 563.6,835.0 566.3,834.4L558.1,850.5L568.2,849.9L565.1,838.4"><title>&amp;</title></path>
<path stroke-width="2.7" d="M595.5,828.4C593.5,825.0 589.3,826.2 588.3,832.9L585.6,849.9M583.4,839.2L592.9,838.6M596.0,844.2C600.1,844.2 604.9,843.7 604.9,841.4C604.4,838.0 596.3,838.0 595.3,844.8C594.5,850.5 601.9,850.5 605.3,847.6M609.6,838.6L608.0,849.9M609.0,843.1C611.0,838.0 616.7,838.0 616.0,843.1L615.0,849.9M616.0,843.1C618.1,838.0 623.9,838.0 623.2,843.1L622.2,849.9M636.7,840.6C635.1,838.0 627.5,838.6 626.6,844.8C625.8,850.5 633.3,850.5 636.0,845.4M637.4,838.6L635.6,848.2Q635.5,849.9 637.8,849.3M645.7,827.3C643.9,834.1 641.7,843.1 641.6,848.2Q642.0,849.9 645.2,849.3M650.2,844.2C654.2,844.2 659.1,843.7 659.0,841.4C658.5,838.0 650.4,838.0 649.4,844.8C648.6,850.5 656.1,850.5 659.5,847.6"><title>female</title></path>
<path stroke-width="2.7" d="M683.9,827.3L678.4,849.9M680.0,843.1C683.3,838.0 693.2,837.5 692.1,843.1L691.4,849.9M698.5,844.2C703.8,844.2 710.2,843.7 710.1,841.4C709.5,838.0 698.8,838.0 697.5,844.8C696.4,850.5 706.2,850.5 710.7,847.6M716.3,838.6L714.2,849.9M715.4,843.7C718.0,839.2 723.6,838.0 726.8,839.7M730.2,844.2C735.6,844.2 741.9,843.7 741.8,841.4C741.2,838.0 730.5,838.0 729.2,844.8C728.2,850.5 738.0,850.5 742.4,847.6M748.5,848.8L745.1,854.4"><title>here,</title></path>
<path stroke-width="2.7" d="M775.2,828.5L771.6,846.6Q771.6,848.5 775.9,847.8M769.0,837.3L778.7,837.1M784.3,826.3L779.7,848.3M781.1,841.7C783.8,836.8 792.1,836.2 791.2,841.7L790.6,848.3M796.6,842.8C801.1,842.8 806.4,842.2 806.3,840.0C805.8,836.8 796.8,836.8 795.8,843.3C794.9,848.8 803.1,848.8 806.8,846.1M810.8,837.3L814.7,848.3M822.4,837.3L812.4,859.3C810.2,863.7 806.6,863.1 806.9,860.9M825.3,837.3L823.5,848.3M824.5,842.2C826.7,837.8 831.3,836.8 834.1,838.4M836.9,842.8C841.4,842.8 846.7,842.2 846.6,840.0C846.1,836.8 837.2,836.8 836.1,843.3C835.2,848.8 843.4,848.8 847.2,846.1"><title>theyre</title></path>
<path stroke-width="2.7" d="M508.3,866.1L504.2,890.2M507.6,870.7C510.8,865.5 519.4,865.5 518.5,871.9C517.5,878.2 508.9,878.2 506.6,875.3M522.8,866.1L521.1,877.6M522.0,871.3C524.2,866.7 528.6,865.5 531.2,867.2M539.9,866.1C533.4,866.1 531.7,877.6 538.2,877.6C544.6,877.6 546.4,866.1 539.9,866.1M551.8,854.6L547.4,877.6M548.8,870.7C552.0,865.5 560.7,865.5 559.7,871.9C558.8,878.2 550.1,878.2 547.8,875.9M573.8,868.2C572.0,865.5 564.0,866.1 563.1,872.4C562.2,878.2 570.1,878.2 573.0,873.0M574.5,866.1L572.6,875.9Q572.5,877.6 574.9,877.0M582.4,854.6L577.9,877.6M579.4,870.7C582.6,865.5 591.2,865.5 590.3,871.9C589.3,878.2 580.7,878.2 578.3,875.9M598.2,854.6C596.3,861.5 593.9,870.7 593.8,875.9Q594.3,877.6 597.7,877.0M602.4,866.1L606.1,877.6M613.5,866.1L603.9,889.1C601.8,893.7 598.3,893.1 598.6,890.8"><title>probably</title></path>
<path stroke-width="2.7" d="M650.9,867.0L648.9,877.5M650.0,871.7C652.5,867.5 657.7,866.5 660.8,868.0M664.1,872.2C669.1,872.2 675.1,871.7 675.0,869.6C674.5,866.5 664.3,866.5 663.1,872.8C662.1,878.0 671.4,878.0 675.6,875.4M692.4,868.9C690.3,866.5 680.9,867.0 679.9,872.2C678.9,877.5 688.2,877.5 691.6,873.3M693.3,867.0L688.7,888.0C686.7,894.3 676.5,894.3 676.7,889.0M701.0,867.0L698.7,877.5M702.4,861.8L702.5,862.3M714.4,867.0C706.8,867.0 704.8,877.5 712.4,877.5C720.0,877.5 722.0,867.0 714.4,867.0M725.2,867.0L723.2,877.5M724.4,871.2C727.0,866.5 736.6,866.5 735.7,871.2L734.8,877.5M751.4,868.0C749.1,866.5 742.3,867.0 741.8,869.6C741.1,872.8 750.6,871.7 750.0,874.9C749.4,878.0 741.0,878.0 739.1,876.5"><title>regions</title></path>
<path stroke-width="2.7" d="M763.4,876.5L763.1,881.5"><title>,</title></path>
<path stroke-width="2.7" d="M778.8,869.8L776.6,878.3M777.9,873.2C780.6,869.4 790.7,869.4 789.7,873.2L788.8,878.3M802.7,869.8C794.8,869.8 792.7,878.3 800.6,878.3C808.6,878.3 810.7,869.8 802.7,869.8M820.5,863.0L816.3,877.0Q816.3,878.5 821.4,877.9M813.1,869.8L824.6,869.6"><title>not</title></path>
<path stroke-width="2.7" d="M525.9,893.3C523.8,890.9 514.2,891.4 513.1,897.3C512.0,902.7 521.5,902.7 525.0,897.9M529.5,880.6L524.5,900.6Q524.4,902.2 527.2,901.7M535.6,891.4L533.2,902.2M537.0,886.0L537.0,886.5M552.4,892.5C550.2,890.9 543.2,891.4 542.6,894.1C542.0,897.3 551.7,896.3 551.1,899.5C550.5,902.7 541.8,902.7 539.9,901.1M568.5,893.0C565.5,890.9 556.8,891.4 555.7,896.8C554.6,902.7 564.1,902.7 568.1,900.0M573.3,891.4L571.3,902.2M572.4,896.3C574.9,891.9 580.3,890.9 583.5,892.5M586.8,896.8C591.9,896.8 598.1,896.3 598.0,894.1C597.4,890.9 587.0,890.9 585.8,897.3C584.8,902.7 594.3,902.7 598.6,900.0M610.3,882.8L606.2,900.6Q606.2,902.4 611.2,901.7M603.2,891.4L614.4,891.2M617.5,896.8C622.6,896.8 628.8,896.3 628.7,894.1C628.1,890.9 617.7,890.9 616.5,897.3C615.5,902.7 624.9,902.7 629.2,900.0"><title>discrete</title></path>
<path stroke-width="2.7" d="M660.9,893.0L655.6,914.0M660.0,897.0C664.2,892.5 675.4,892.5 674.2,898.0C672.9,903.5 661.7,903.5 658.7,901.0M687.2,893.0C678.8,893.0 676.6,903.0 685.0,903.0C693.4,903.0 695.6,893.0 687.2,893.0M702.0,893.0L699.4,903.0M703.5,888.0L703.5,888.5M709.2,893.0L707.0,903.0M708.4,897.0C711.2,892.5 721.9,892.5 720.9,897.0L719.9,903.0M734.0,885.0L729.6,901.5Q729.5,903.2 734.9,902.5M726.2,893.0L738.4,892.8M752.9,894.0C750.4,892.5 742.8,893.0 742.3,895.5C741.6,898.5 752.1,897.5 751.4,900.5C750.8,903.5 741.4,903.5 739.3,902.0M756.4,902.5L756.6,903.0"><title>points.</title></path>
<path stroke-width="2.7" d="M512.9,941.2L507.7,961.8C506.1,967.5 496.4,967.5 496.6,962.8M516.8,946.8L515.5,952.4C514.6,956.7 526.1,956.7 527.4,952.4M528.7,946.8L526.9,956.2M544.2,947.7C541.9,946.3 534.7,946.8 534.2,949.2C533.5,952.0 543.5,951.0 542.8,953.9C542.2,956.7 533.3,956.7 531.4,955.3M555.2,939.3L550.9,954.8Q550.9,956.4 556.0,955.7M547.8,946.8L559.4,946.6"><title>Just</title></path>
<path stroke-width="2.7" d="M590.3,948.5C588.2,946.3 578.8,946.8 577.7,952.0C576.6,956.7 586.0,956.7 589.4,952.4M591.2,946.8L588.9,954.8Q588.8,956.2 591.6,955.7M607.2,947.7C605.0,946.3 598.1,946.8 597.6,949.2C597.0,952.0 606.5,951.0 605.9,953.9C605.3,956.7 596.8,956.7 594.9,955.3"><title>as</title></path>
<path stroke-width="2.7" d="M623.1,936.9L620.6,940.6M627.3,936.9L624.9,940.6M639.8,946.0C637.6,944.4 630.7,944.9 630.2,947.6C629.6,950.8 639.1,949.7 638.5,952.9C637.9,956.1 629.4,956.1 627.5,954.5M647.3,934.2L642.1,955.6M655.1,944.9L643.5,950.8L654.0,955.6M659.2,944.9L663.6,955.6M672.5,944.9L661.1,966.3C658.6,970.6 654.4,970.0 654.8,967.9"><title>“sky</title></path>
<path stroke-width="2.7" d="M697.4,938.3L692.4,956.9M694.0,951.3C697.6,947.1 707.4,947.1 706.3,952.2C705.2,957.4 695.5,957.4 692.8,955.5M715.2,938.3C713.1,943.9 710.4,951.3 710.3,955.5Q710.8,956.9 714.6,956.4M720.7,947.6L719.5,953.2C718.7,957.4 729.2,957.4 730.4,953.2M731.6,947.6L729.9,956.9M736.1,952.2C741.0,952.2 746.7,951.8 746.6,949.9C746.1,947.1 736.4,947.1 735.2,952.7C734.2,957.4 743.1,957.4 747.2,955.0M756.2,940.6L753.9,943.9M760.2,940.6L757.9,943.9"><title>blue”</title></path>
<path stroke-width="2.7" d="M787.4,945.9C785.1,944.0 774.8,944.4 773.6,949.1C772.4,953.3 782.7,953.3 786.4,949.5M788.3,944.4L785.9,951.6Q785.7,952.9 788.8,952.5M795.0,944.4L792.8,952.9M794.1,947.8C797.0,944.0 807.6,944.0 806.6,947.8L805.6,952.9M825.4,945.9C823.2,944.0 812.8,944.4 811.6,949.1C810.5,953.3 820.7,953.3 824.5,949.5M829.4,935.9L823.9,951.6Q823.8,952.9 826.9,952.5"><title>and</title></path>
<path stroke-width="2.7" d="M514.4,963.2L512.1,967.2M518.5,963.2L516.2,967.2M520.9,971.8L519.0,983.3M520.1,976.4C522.6,971.2 531.8,971.2 530.9,976.4L530.1,983.3M547.4,973.9C545.4,971.2 536.4,971.8 535.3,978.1C534.4,983.9 543.2,983.9 546.5,978.7M548.2,971.8L546.1,981.6Q545.9,983.3 548.6,982.7M553.2,971.8L556.9,983.3L564.8,971.8M567.1,971.8L571.3,983.3M579.7,971.8L568.9,994.8C566.5,999.4 562.5,998.8 562.9,996.5M586.6,963.2L584.3,967.2M590.6,963.2L588.4,967.2"><title>“navy”</title></path>
<path stroke-width="2.7" d="M621.3,972.9C619.8,970.2 612.9,970.8 612.1,977.1C611.3,982.8 618.2,982.8 620.7,977.6M622.0,970.8L620.3,980.5Q620.2,982.2 622.3,981.6M626.4,970.8L624.9,982.2M625.8,975.9C627.6,971.4 631.5,970.2 633.8,971.9M636.1,976.5C639.9,976.5 644.3,975.9 644.2,973.7C643.8,970.2 636.3,970.2 635.4,977.1C634.7,982.8 641.5,982.8 644.6,979.9"><title>are</title></path>
<path stroke-width="2.7" d="M677.1,963.6L672.6,982.2M674.0,976.6C677.3,972.4 686.0,972.4 685.1,977.6C684.1,982.7 675.4,982.7 673.0,980.8M695.3,972.9C688.7,972.9 687.0,982.2 693.5,982.2C700.1,982.2 701.9,972.9 695.3,972.9M710.0,965.5L706.5,980.8Q706.5,982.4 710.7,981.7M703.9,972.9L713.4,972.7M718.9,963.6L714.4,982.2M715.7,976.6C718.4,972.4 726.5,972.0 725.6,976.6L725.0,982.2"><title>both</title></path>
<path stroke-width="2.7" d="M758.0,963.6L752.2,982.2M754.1,976.6C758.3,972.4 769.4,972.4 768.2,977.6C767.0,982.7 755.9,982.7 752.8,980.8M778.4,963.6C776.0,969.2 772.9,976.6 772.8,980.8Q773.4,982.2 777.8,981.7M784.7,972.9L783.4,978.5C782.4,982.7 794.5,982.7 795.8,978.5M797.2,972.9L795.3,982.2M802.4,977.6C807.9,977.6 814.6,977.1 814.4,975.2C813.8,972.4 802.7,972.4 801.3,978.0C800.2,982.7 810.4,982.7 815.1,980.3M821.4,981.3L817.8,985.9"><title>blue,</title></path>
<path stroke-width="2.7" d="M474.6,1000.4L476.6,1010.4L481.7,1002.9L484.2,1010.4L489.9,1000.4M492.5,1005.4C496.9,1005.4 502.0,1004.9 502.0,1002.9C501.5,999.9 492.7,999.9 491.7,1005.9C490.8,1010.9 498.8,1010.9 502.5,1008.4"><title>we</title></path>
<path stroke-width="2.7" d="M524.3,992.4L519.1,1010.4M520.6,1005.0C523.7,1000.9 533.1,1000.5 532.1,1005.0L531.4,1010.4M549.7,1003.0C547.7,1000.9 538.3,1001.4 537.2,1006.4C536.2,1010.9 545.4,1010.9 548.9,1006.8M550.6,1001.4L548.4,1009.0Q548.2,1010.4 551.0,1009.9M555.8,1001.4L559.7,1010.4L568.0,1001.4M571.0,1005.9C576.1,1005.9 582.1,1005.4 582.0,1003.6C581.4,1000.9 571.3,1000.9 570.1,1006.4C569.1,1010.9 578.3,1010.9 582.6,1008.6"><title>have</title></path>
<path stroke-width="2.7" d="M607.7,998.1L606.5,1004.1C605.5,1008.6 616.6,1008.6 617.9,1004.1M619.1,998.1L617.4,1008.1M624.1,998.1L622.1,1008.1M623.3,1002.1C625.9,997.6 633.1,997.6 632.2,1002.1L630.9,1008.1M632.2,1002.1C634.8,997.6 642.2,997.6 641.2,1002.1L640.0,1008.1M649.9,988.1L644.6,1008.1M646.4,1002.1C650.2,997.6 660.5,997.6 659.3,1003.1C658.2,1008.6 648.0,1008.6 645.1,1006.6M664.5,998.1L662.4,1008.1M663.6,1002.6C666.1,998.6 671.4,997.6 674.5,999.1M677.8,1003.1C683.0,1003.1 689.0,1002.6 688.9,1000.6C688.4,997.6 678.1,997.6 676.9,1003.6C675.8,1008.6 685.2,1008.6 689.5,1006.1M699.2,988.1C696.9,994.1 694.1,1002.1 694.0,1006.6Q694.6,1008.1 698.6,1007.6M709.3,988.1C707.0,994.1 704.2,1002.1 704.1,1006.6Q704.7,1008.1 708.7,1007.6M726.7,999.9C724.6,997.6 715.1,998.1 714.0,1003.6C713.0,1008.6 722.4,1008.6 725.9,1004.1M727.6,998.1L725.3,1006.6Q725.2,1008.1 728.0,1007.6"><title>umbrella</title></path>
<path stroke-width="2.7" d="M761.2,990.1L757.0,1006.6Q757.0,1008.3 762.1,1007.6M753.9,998.1L765.3,997.9M768.5,1003.1C773.7,1003.1 780.0,1002.6 779.9,1000.6C779.3,997.6 768.7,997.6 767.5,1003.6C766.4,1008.6 776.1,1008.6 780.5,1006.1M786.1,998.1L783.9,1008.1M785.1,1002.6C787.7,998.6 793.2,997.6 796.4,999.1M800.0,998.1L797.9,1008.1M799.1,1002.1C801.8,997.6 809.2,997.6 808.3,1002.1L807.0,1008.1M808.3,1002.1C811.0,997.6 818.6,997.6 817.6,1002.1L816.3,1008.1M833.5,999.1C831.2,997.6 824.1,998.1 823.6,1000.6C822.9,1003.6 832.8,1002.6 832.2,1005.6C831.5,1008.6 822.7,1008.6 820.8,1007.1"><title>terms</title></path>
<path stroke-width="2.7" d="M444.0,1018.4L440.4,1033.2Q440.4,1034.8 444.7,1034.1M437.8,1025.6L447.5,1025.4M453.2,1016.6L448.5,1034.6M449.9,1029.2C452.7,1025.1 461.0,1024.7 460.1,1029.2L459.5,1034.6M475.8,1027.2C473.9,1025.1 465.6,1025.6 464.6,1030.5C463.7,1035.0 472.0,1035.0 475.0,1031.0M476.5,1025.6L474.6,1033.2Q474.4,1034.6 476.9,1034.1M487.4,1018.4L483.8,1033.2Q483.8,1034.8 488.2,1034.1M481.2,1025.6L491.0,1025.4"><title>that</title></path>
<path stroke-width="2.7" d="M525.8,1026.9C522.7,1025.1 513.8,1025.6 512.8,1030.1C511.6,1035.0 521.3,1035.0 525.3,1032.8M537.8,1025.6C529.8,1025.6 527.7,1034.6 535.6,1034.6C543.6,1034.6 545.7,1025.6 537.8,1025.6M549.0,1025.6L546.9,1034.6M548.2,1029.2C550.9,1025.1 560.9,1025.1 559.9,1029.2L559.0,1034.6M572.3,1018.4L568.1,1033.2Q568.1,1034.8 573.2,1034.1M565.0,1025.6L576.5,1025.4M591.7,1027.2C589.5,1025.1 579.8,1025.6 578.6,1030.5C577.5,1035.0 587.2,1035.0 590.8,1031.0M592.6,1025.6L590.3,1033.2Q590.1,1034.6 593.1,1034.1M601.6,1025.6L599.1,1034.6M603.0,1021.1L603.0,1021.5M608.4,1025.6L606.3,1034.6M607.6,1029.2C610.3,1025.1 620.3,1025.1 619.4,1029.2L618.4,1034.6"><title>contain</title></path>
<path stroke-width="2.7" d="M651.9,1025.6C644.7,1025.6 642.7,1035.6 650.0,1035.6C657.2,1035.6 659.1,1025.6 651.9,1025.6M662.2,1025.6L660.3,1035.6M661.3,1030.1C663.7,1026.1 668.7,1025.1 671.7,1026.6"><title>or</title></path>
<path stroke-width="2.7" d="M705.0,1024.1C696.7,1024.1 694.4,1034.1 702.8,1034.1C711.1,1034.1 713.3,1024.1 705.0,1024.1M715.9,1024.1L720.2,1034.1L729.2,1024.1M732.5,1029.1C738.1,1029.1 744.7,1028.6 744.6,1026.6C743.9,1023.6 732.8,1023.6 731.5,1029.6C730.4,1034.6 740.6,1034.6 745.2,1032.1M751.0,1024.1L748.8,1034.1M750.0,1028.6C752.8,1024.6 758.6,1023.6 761.9,1025.1M770.3,1014.1C767.8,1020.1 764.8,1028.1 764.7,1032.6Q765.3,1034.1 769.7,1033.6M789.1,1025.9C786.9,1023.6 776.6,1024.1 775.4,1029.6C774.2,1034.6 784.4,1034.6 788.2,1030.1M790.1,1024.1L787.6,1032.6Q787.5,1034.1 790.6,1033.6M797.3,1024.1L792.1,1045.1M796.4,1028.1C800.6,1023.6 811.7,1023.6 810.4,1029.1C809.2,1034.6 798.1,1034.6 795.2,1032.1"><title>overlap</title></path>
<path stroke-width="2.7" d="M412.5,1054.7C405.2,1054.7 403.2,1065.0 410.6,1065.0C417.9,1065.0 419.9,1054.7 412.5,1054.7M429.0,1046.5L425.1,1063.5Q425.1,1065.2 429.8,1064.5M422.2,1054.7L432.9,1054.5M439.0,1044.4L434.0,1065.0M435.5,1058.8C438.5,1054.2 447.6,1053.7 446.6,1058.8L445.9,1065.0M452.5,1059.8C457.4,1059.8 463.2,1059.3 463.1,1057.3C462.5,1054.2 452.7,1054.2 451.5,1060.4C450.6,1065.5 459.6,1065.5 463.7,1062.9M468.8,1054.7L466.9,1065.0M467.9,1059.3C470.4,1055.2 475.5,1054.2 478.5,1055.7"><title>other</title></path>
<path stroke-width="2.7" d="M510.5,1048.4L506.2,1063.6Q506.2,1065.2 511.3,1064.5M503.1,1055.8L514.7,1055.6M517.8,1060.4C523.2,1060.4 529.5,1059.9 529.4,1058.1C528.8,1055.3 518.1,1055.3 516.8,1060.9C515.8,1065.5 525.5,1065.5 530.0,1063.2M535.6,1055.8L533.5,1065.0M534.7,1059.9C537.3,1056.3 542.9,1055.3 546.1,1056.7M549.7,1055.8L547.6,1065.0M548.8,1059.5C551.6,1055.3 559.0,1055.3 558.1,1059.5L556.8,1065.0M558.1,1059.5C560.8,1055.3 568.5,1055.3 567.5,1059.5L566.2,1065.0M583.7,1056.7C581.3,1055.3 574.1,1055.8 573.5,1058.1C572.9,1060.9 582.9,1059.9 582.3,1062.7C581.6,1065.5 572.7,1065.5 570.7,1064.1"><title>terms</title></path>
<path stroke-width="2.7" d="M43.5,918.5L41.6,921.7M46.8,918.5L44.9,921.7M53.5,918.1L50.4,932.9Q50.4,934.5 54.1,933.8M48.1,925.3L56.5,925.1M58.3,925.3L61.7,934.3M68.5,925.3L59.8,943.3C57.8,946.9 54.7,946.4 55.0,944.6M71.3,925.3L67.7,944.2M70.7,928.9C73.6,924.8 81.4,924.8 80.6,929.8C79.7,934.8 71.9,934.8 69.8,932.5M84.4,929.8C88.3,929.8 92.9,929.3 92.8,927.5C92.4,924.8 84.6,924.8 83.6,930.2C82.9,934.8 90.0,934.8 93.3,932.5M100.5,918.5L98.6,921.7M103.7,918.5L101.9,921.7"><title>“type”</title></path>
<path stroke-width="2.7" d="M40.3,969.7C36.1,969.7 35.0,982.7 39.2,982.7C43.5,982.7 44.6,969.7 40.3,969.7M52.9,965.8C51.7,963.2 49.2,963.9 48.8,968.4L46.5,993.8C46.1,997.7 48.2,997.7 48.3,993.8L47.6,982.7M45.6,973.6L51.3,973.0"><title>of</title></path>
<path stroke-width="2.7" d="M71.5,977.0C70.3,974.7 64.5,975.2 63.9,980.2C63.3,985.2 69.0,985.2 71.0,981.2M72.1,975.2L69.3,995.2C68.0,1001.2 61.8,1001.2 62.0,996.2M75.2,980.2C78.3,980.2 81.9,979.7 81.9,977.7C81.5,974.7 75.3,974.7 74.6,980.7C74.0,985.7 79.6,985.7 82.2,983.2M85.5,975.2L84.2,985.2M85.0,979.2C86.6,974.7 92.4,974.7 91.9,979.2L91.3,985.2M102.3,977.0C101.1,974.7 95.4,975.2 94.7,980.7C94.1,985.7 99.7,985.7 101.8,981.2M104.5,965.2L101.5,983.7Q101.4,985.2 103.1,984.7M106.5,980.2C109.6,980.2 113.2,979.7 113.2,977.7C112.8,974.7 106.7,974.7 105.9,980.7C105.3,985.7 111.0,985.7 113.5,983.2M116.8,975.2L115.6,985.2M116.2,979.7C117.8,975.7 121.0,974.7 122.8,976.2"><title>gender</title></path>
<path stroke-width="2.2" d="M162.6,926.0L161.5,935.0M162.2,929.6C163.6,925.5 167.6,925.5 167.1,929.6L166.4,935.0M167.1,929.6C168.5,925.5 172.6,925.5 172.1,929.6L171.4,935.0M178.8,926.0C174.6,926.0 173.4,935.0 177.7,935.0C181.9,935.0 183.0,926.0 178.8,926.0M184.8,926.0L183.7,935.0M184.3,930.0C185.7,926.5 188.6,925.5 190.4,926.9M192.2,930.5C195.0,930.5 198.3,930.0 198.3,928.2C198.0,925.5 192.3,925.5 191.6,931.0C191.1,935.5 196.2,935.5 198.6,933.2"><title>more</title></path>
<path stroke-width="2.2" d="M229.2,936.2L223.3,927.4C222.6,924.6 227.9,923.8 227.4,926.6C227.1,928.6 221.0,930.6 220.5,933.4C219.9,936.6 226.3,936.6 229.9,932.2"><title>&amp;</title></path>
<path stroke-width="2.2" d="M251.6,924.4C250.6,928.3 249.4,933.5 249.4,936.4Q249.6,937.4 251.3,937.1M253.9,934.1C256.1,934.1 258.7,933.8 258.6,932.5C258.4,930.6 254.1,930.6 253.5,934.5C253.1,937.7 257.1,937.7 258.9,936.1M265.4,931.5C264.4,930.6 261.5,930.9 261.3,932.5C261.0,934.5 265.1,933.8 264.8,935.8C264.5,937.7 260.9,937.7 260.1,936.8M271.4,931.5C270.5,930.6 267.5,930.9 267.3,932.5C267.1,934.5 271.1,933.8 270.8,935.8C270.6,937.7 267.0,937.7 266.2,936.8"><title>less</title></path>
<path stroke-width="2.2" d="M286.2,933.2C284.9,931.7 278.8,932.0 278.1,935.2C277.4,938.5 283.5,938.5 285.6,935.9M286.8,932.0L283.8,945.0C282.5,948.9 275.9,948.9 276.0,945.6M290.1,935.2C293.3,935.2 297.2,934.9 297.2,933.6C296.8,931.7 290.2,931.7 289.4,935.6C288.8,938.8 294.8,938.8 297.6,937.2M301.0,932.0L299.7,938.5M300.5,934.6C302.2,931.7 308.4,931.7 307.8,934.6L307.3,938.5M319.0,933.2C317.6,931.7 311.5,932.0 310.8,935.6C310.2,938.8 316.2,938.8 318.4,935.9M321.3,925.5L318.1,937.5Q318.0,938.5 319.8,938.2M323.4,935.2C326.7,935.2 330.6,934.9 330.5,933.6C330.1,931.7 323.6,931.7 322.8,935.6C322.1,938.8 328.1,938.8 330.9,937.2M334.4,932.0L333.0,938.5M333.8,934.9C335.4,932.3 338.8,931.7 340.8,932.6"><title>gender</title></path>
<path stroke-width="2.3" d="M420.4,887.2L420.6,894.3M420.5,890.0C421.3,886.7 425.1,885.9 425.2,889.1L425.3,893.4M425.2,889.1C426.0,885.8 429.9,885.0 430.0,888.2L430.1,892.4M438.7,884.9C437.3,883.6 432.3,884.9 432.4,888.8C432.6,892.3 437.5,891.3 438.8,887.9M438.9,883.6L438.9,889.7Q439.0,890.7 440.4,890.1M443.1,875.7C442.7,880.0 442.3,885.8 442.8,888.9Q443.3,889.9 445.4,889.1M448.1,885.4C450.8,884.9 453.9,883.9 453.6,882.5C452.9,880.5 447.5,881.6 447.6,885.8C447.8,889.4 452.7,888.4 454.7,886.2M456.4,878.1C456.7,874.8 462.6,874.0 462.3,877.3C461.9,879.5 459.2,880.4 459.3,883.2M459.4,886.2L459.5,886.6"><title>male?</title></path>
<path stroke-width="2.3" d="M423.0,926.5C421.1,925.0 418.6,926.4 419.1,930.4L420.1,940.2M416.8,934.8L423.0,932.6M425.9,935.1C428.6,934.3 431.6,933.1 431.2,931.9C430.3,930.1 425.0,931.6 425.5,935.6C425.9,938.8 430.7,937.4 432.5,935.2M433.8,929.4L434.6,935.9M434.1,932.0C434.6,928.8 438.3,927.7 438.7,930.7L439.2,934.6M438.7,930.7C439.2,927.5 443.0,926.3 443.3,929.3L443.8,933.2M451.7,925.3C450.2,924.2 445.4,926.0 445.8,929.6C446.2,932.8 451.1,931.4 452.0,928.1M451.8,924.1L452.2,929.7Q452.4,930.7 453.8,929.9M455.3,916.2C455.3,920.3 455.3,925.7 456.1,928.5Q456.7,929.4 458.6,928.5M461.0,924.7C463.7,923.9 466.7,922.7 466.3,921.5C465.4,919.7 460.1,921.3 460.6,925.2C461.0,928.5 465.8,927.0 467.6,924.8M468.6,917.0C468.7,914.0 474.5,912.6 474.4,915.7C474.2,917.8 471.6,918.9 471.9,921.5M472.3,924.2L472.4,924.6"><title>female?</title></path>
</g>
</svg>
</body></html>
